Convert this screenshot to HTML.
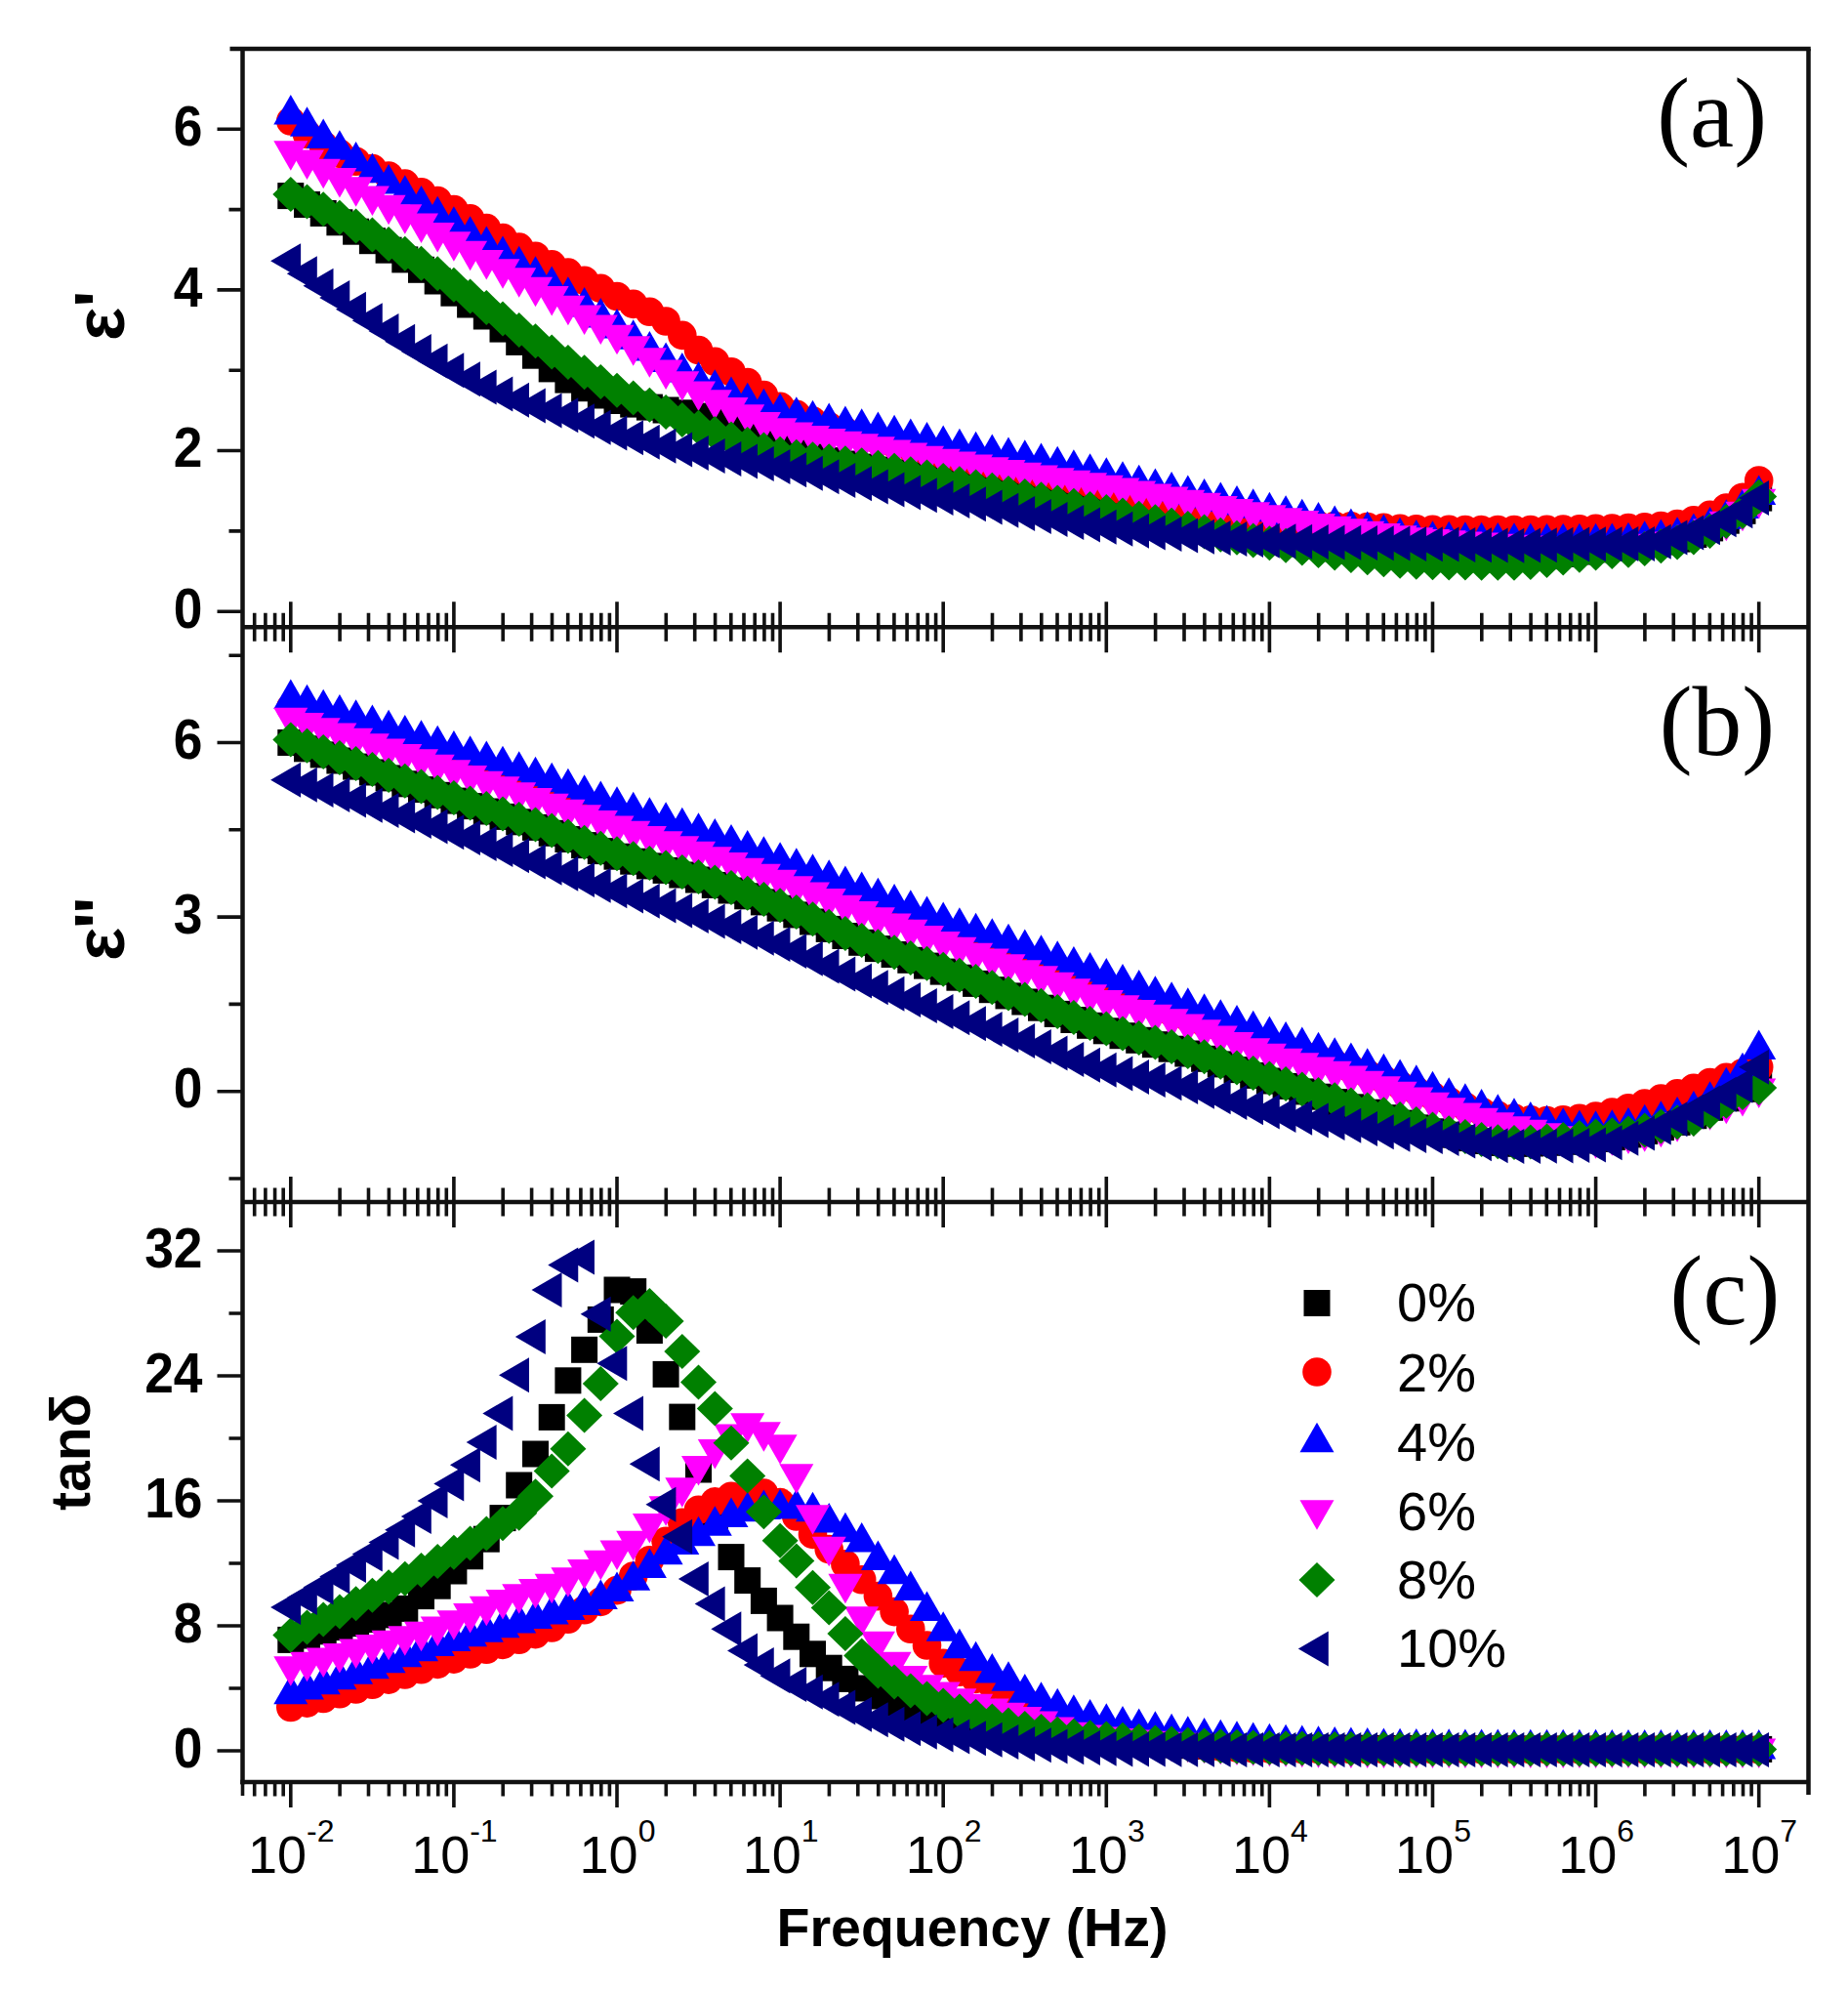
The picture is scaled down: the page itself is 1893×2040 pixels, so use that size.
<!DOCTYPE html>
<html><head><meta charset="utf-8"><title>Dielectric properties</title>
<style>
html,body{margin:0;padding:0;background:#fff;}
svg{display:block;}
text{font-family:"Liberation Sans",sans-serif;fill:#000;}
.bd{font-weight:bold;}
.sf{font-family:"Liberation Serif",serif;}
</style></head><body>
<svg width="1893" height="2040" viewBox="0 0 1893 2040">
<rect width="1893" height="2040" fill="#fff"/>
<defs>
<rect id="mk" x="-13.5" y="-13.5" width="27.0" height="27.0"/>
<circle id="mr" r="14.8"/>
<path id="mb" d="M0 -20.33L17.5 10.17L-17.5 10.17Z"/>
<path id="mm" d="M0 20.33L17.5 -10.17L-17.5 -10.17Z"/>
<path id="mg" d="M0 -18L18.5 0L0 18L-18.5 0Z"/>
<path id="mn" d="M-20.67 0L10.33 -18L10.33 18Z"/>
</defs>
<g fill="#000000"><use href="#mk" x="297.8" y="200.6"/><use href="#mk" x="314.5" y="209.5"/><use href="#mk" x="331.2" y="218.5"/><use href="#mk" x="347.9" y="227.8"/><use href="#mk" x="364.6" y="237.2"/><use href="#mk" x="381.4" y="246.7"/><use href="#mk" x="398.1" y="256.2"/><use href="#mk" x="414.8" y="265.9"/><use href="#mk" x="431.5" y="276.3"/><use href="#mk" x="448.2" y="288.0"/><use href="#mk" x="464.9" y="300.2"/><use href="#mk" x="481.6" y="312.0"/><use href="#mk" x="498.3" y="324.0"/><use href="#mk" x="515.0" y="337.1"/><use href="#mk" x="531.7" y="350.4"/><use href="#mk" x="548.5" y="364.2"/><use href="#mk" x="565.2" y="377.9"/><use href="#mk" x="581.9" y="389.1"/><use href="#mk" x="598.6" y="397.7"/><use href="#mk" x="615.3" y="405.0"/><use href="#mk" x="632.0" y="410.5"/><use href="#mk" x="648.7" y="414.1"/><use href="#mk" x="665.4" y="417.1"/><use href="#mk" x="682.1" y="420.0"/><use href="#mk" x="698.8" y="422.8"/><use href="#mk" x="715.5" y="426.1"/><use href="#mk" x="732.3" y="431.9"/><use href="#mk" x="749.0" y="438.3"/><use href="#mk" x="765.7" y="445.1"/><use href="#mk" x="782.4" y="452.5"/><use href="#mk" x="799.1" y="459.1"/><use href="#mk" x="815.8" y="463.7"/><use href="#mk" x="832.5" y="467.9"/><use href="#mk" x="849.2" y="471.6"/><use href="#mk" x="865.9" y="475.0"/><use href="#mk" x="882.7" y="478.1"/><use href="#mk" x="899.4" y="481.1"/><use href="#mk" x="916.1" y="483.9"/><use href="#mk" x="932.8" y="486.8"/><use href="#mk" x="949.5" y="489.7"/><use href="#mk" x="966.2" y="492.8"/><use href="#mk" x="982.9" y="496.0"/><use href="#mk" x="999.6" y="499.1"/><use href="#mk" x="1016.3" y="502.2"/><use href="#mk" x="1033.0" y="505.3"/><use href="#mk" x="1049.8" y="508.4"/><use href="#mk" x="1066.5" y="511.4"/><use href="#mk" x="1083.2" y="514.4"/><use href="#mk" x="1099.9" y="517.4"/><use href="#mk" x="1116.6" y="520.3"/><use href="#mk" x="1133.3" y="523.3"/><use href="#mk" x="1150.0" y="526.3"/><use href="#mk" x="1166.7" y="529.3"/><use href="#mk" x="1183.4" y="532.4"/><use href="#mk" x="1200.1" y="535.5"/><use href="#mk" x="1216.8" y="538.5"/><use href="#mk" x="1233.6" y="541.5"/><use href="#mk" x="1250.3" y="544.4"/><use href="#mk" x="1267.0" y="547.1"/><use href="#mk" x="1283.7" y="549.7"/><use href="#mk" x="1300.4" y="552.1"/><use href="#mk" x="1317.1" y="554.5"/><use href="#mk" x="1333.8" y="556.9"/><use href="#mk" x="1350.5" y="559.4"/><use href="#mk" x="1367.2" y="561.8"/><use href="#mk" x="1383.9" y="564.1"/><use href="#mk" x="1400.7" y="566.2"/><use href="#mk" x="1417.4" y="568.0"/><use href="#mk" x="1434.1" y="569.4"/><use href="#mk" x="1450.8" y="570.5"/><use href="#mk" x="1467.5" y="571.0"/><use href="#mk" x="1484.2" y="571.3"/><use href="#mk" x="1500.9" y="571.5"/><use href="#mk" x="1517.6" y="571.7"/><use href="#mk" x="1534.3" y="571.8"/><use href="#mk" x="1551.0" y="571.9"/><use href="#mk" x="1567.8" y="571.2"/><use href="#mk" x="1584.5" y="569.6"/><use href="#mk" x="1601.2" y="567.4"/><use href="#mk" x="1617.9" y="565.0"/><use href="#mk" x="1634.6" y="562.8"/><use href="#mk" x="1651.3" y="561.0"/><use href="#mk" x="1668.0" y="559.2"/><use href="#mk" x="1684.7" y="557.3"/><use href="#mk" x="1701.4" y="555.0"/><use href="#mk" x="1718.1" y="552.1"/><use href="#mk" x="1734.9" y="547.5"/><use href="#mk" x="1751.6" y="540.9"/><use href="#mk" x="1768.3" y="533.2"/><use href="#mk" x="1785.0" y="523.3"/><use href="#mk" x="1801.7" y="510.1"/></g>
<g fill="#ff0000"><use href="#mr" x="297.8" y="124.0"/><use href="#mr" x="314.5" y="137.5"/><use href="#mr" x="331.2" y="148.7"/><use href="#mr" x="347.9" y="157.4"/><use href="#mr" x="364.6" y="165.2"/><use href="#mr" x="381.4" y="172.5"/><use href="#mr" x="398.1" y="180.0"/><use href="#mr" x="414.8" y="188.1"/><use href="#mr" x="431.5" y="196.7"/><use href="#mr" x="448.2" y="205.5"/><use href="#mr" x="464.9" y="214.6"/><use href="#mr" x="481.6" y="223.9"/><use href="#mr" x="498.3" y="233.6"/><use href="#mr" x="515.0" y="243.5"/><use href="#mr" x="531.7" y="253.1"/><use href="#mr" x="548.5" y="262.3"/><use href="#mr" x="565.2" y="270.9"/><use href="#mr" x="581.9" y="279.1"/><use href="#mr" x="598.6" y="287.2"/><use href="#mr" x="615.3" y="295.2"/><use href="#mr" x="632.0" y="303.5"/><use href="#mr" x="648.7" y="311.4"/><use href="#mr" x="665.4" y="319.3"/><use href="#mr" x="682.1" y="329.0"/><use href="#mr" x="698.8" y="343.4"/><use href="#mr" x="715.5" y="358.6"/><use href="#mr" x="732.3" y="370.2"/><use href="#mr" x="749.0" y="380.7"/><use href="#mr" x="765.7" y="391.6"/><use href="#mr" x="782.4" y="404.6"/><use href="#mr" x="799.1" y="416.3"/><use href="#mr" x="815.8" y="424.4"/><use href="#mr" x="832.5" y="431.1"/><use href="#mr" x="849.2" y="436.8"/><use href="#mr" x="865.9" y="441.9"/><use href="#mr" x="882.7" y="446.5"/><use href="#mr" x="899.4" y="450.7"/><use href="#mr" x="916.1" y="454.6"/><use href="#mr" x="932.8" y="458.4"/><use href="#mr" x="949.5" y="462.0"/><use href="#mr" x="966.2" y="465.7"/><use href="#mr" x="982.9" y="469.2"/><use href="#mr" x="999.6" y="472.7"/><use href="#mr" x="1016.3" y="475.9"/><use href="#mr" x="1033.0" y="479.1"/><use href="#mr" x="1049.8" y="482.3"/><use href="#mr" x="1066.5" y="485.4"/><use href="#mr" x="1083.2" y="488.6"/><use href="#mr" x="1099.9" y="491.8"/><use href="#mr" x="1116.6" y="495.1"/><use href="#mr" x="1133.3" y="498.6"/><use href="#mr" x="1150.0" y="502.3"/><use href="#mr" x="1166.7" y="506.1"/><use href="#mr" x="1183.4" y="510.0"/><use href="#mr" x="1200.1" y="513.9"/><use href="#mr" x="1216.8" y="517.5"/><use href="#mr" x="1233.6" y="521.2"/><use href="#mr" x="1250.3" y="525.0"/><use href="#mr" x="1267.0" y="528.5"/><use href="#mr" x="1283.7" y="531.6"/><use href="#mr" x="1300.4" y="534.0"/><use href="#mr" x="1317.1" y="535.8"/><use href="#mr" x="1333.8" y="537.2"/><use href="#mr" x="1350.5" y="538.1"/><use href="#mr" x="1367.2" y="538.5"/><use href="#mr" x="1383.9" y="538.9"/><use href="#mr" x="1400.7" y="539.6"/><use href="#mr" x="1417.4" y="540.4"/><use href="#mr" x="1434.1" y="541.2"/><use href="#mr" x="1450.8" y="541.9"/><use href="#mr" x="1467.5" y="542.2"/><use href="#mr" x="1484.2" y="542.4"/><use href="#mr" x="1500.9" y="542.5"/><use href="#mr" x="1517.6" y="542.6"/><use href="#mr" x="1534.3" y="542.6"/><use href="#mr" x="1551.0" y="542.6"/><use href="#mr" x="1567.8" y="542.6"/><use href="#mr" x="1584.5" y="542.4"/><use href="#mr" x="1601.2" y="542.1"/><use href="#mr" x="1617.9" y="541.8"/><use href="#mr" x="1634.6" y="541.4"/><use href="#mr" x="1651.3" y="541.0"/><use href="#mr" x="1668.0" y="540.5"/><use href="#mr" x="1684.7" y="539.8"/><use href="#mr" x="1701.4" y="538.5"/><use href="#mr" x="1718.1" y="536.5"/><use href="#mr" x="1734.9" y="532.8"/><use href="#mr" x="1751.6" y="527.4"/><use href="#mr" x="1768.3" y="520.0"/><use href="#mr" x="1785.0" y="509.3"/><use href="#mr" x="1801.7" y="492.0"/></g>
<g fill="#0000ff"><use href="#mb" x="297.8" y="117.4"/><use href="#mb" x="314.5" y="129.7"/><use href="#mb" x="331.2" y="141.8"/><use href="#mb" x="347.9" y="153.7"/><use href="#mb" x="364.6" y="165.4"/><use href="#mb" x="381.4" y="177.0"/><use href="#mb" x="398.1" y="188.3"/><use href="#mb" x="414.8" y="199.5"/><use href="#mb" x="431.5" y="210.4"/><use href="#mb" x="448.2" y="221.1"/><use href="#mb" x="464.9" y="231.5"/><use href="#mb" x="481.6" y="241.7"/><use href="#mb" x="498.3" y="251.8"/><use href="#mb" x="515.0" y="261.9"/><use href="#mb" x="531.7" y="272.2"/><use href="#mb" x="548.5" y="282.5"/><use href="#mb" x="565.2" y="292.9"/><use href="#mb" x="581.9" y="303.5"/><use href="#mb" x="598.6" y="314.3"/><use href="#mb" x="615.3" y="325.4"/><use href="#mb" x="632.0" y="336.4"/><use href="#mb" x="648.7" y="347.7"/><use href="#mb" x="665.4" y="359.3"/><use href="#mb" x="682.1" y="370.8"/><use href="#mb" x="698.8" y="381.4"/><use href="#mb" x="715.5" y="390.7"/><use href="#mb" x="732.3" y="398.7"/><use href="#mb" x="749.0" y="405.8"/><use href="#mb" x="765.7" y="412.1"/><use href="#mb" x="782.4" y="418.0"/><use href="#mb" x="799.1" y="422.8"/><use href="#mb" x="815.8" y="426.7"/><use href="#mb" x="832.5" y="430.0"/><use href="#mb" x="849.2" y="432.9"/><use href="#mb" x="865.9" y="435.8"/><use href="#mb" x="882.7" y="438.6"/><use href="#mb" x="899.4" y="441.8"/><use href="#mb" x="916.1" y="445.2"/><use href="#mb" x="932.8" y="448.8"/><use href="#mb" x="949.5" y="452.4"/><use href="#mb" x="966.2" y="455.8"/><use href="#mb" x="982.9" y="459.0"/><use href="#mb" x="999.6" y="462.0"/><use href="#mb" x="1016.3" y="464.9"/><use href="#mb" x="1033.0" y="467.8"/><use href="#mb" x="1049.8" y="470.7"/><use href="#mb" x="1066.5" y="473.8"/><use href="#mb" x="1083.2" y="477.0"/><use href="#mb" x="1099.9" y="480.5"/><use href="#mb" x="1116.6" y="484.5"/><use href="#mb" x="1133.3" y="488.7"/><use href="#mb" x="1150.0" y="492.5"/><use href="#mb" x="1166.7" y="496.2"/><use href="#mb" x="1183.4" y="499.8"/><use href="#mb" x="1200.1" y="503.3"/><use href="#mb" x="1216.8" y="506.8"/><use href="#mb" x="1233.6" y="510.3"/><use href="#mb" x="1250.3" y="513.8"/><use href="#mb" x="1267.0" y="517.3"/><use href="#mb" x="1283.7" y="520.7"/><use href="#mb" x="1300.4" y="524.1"/><use href="#mb" x="1317.1" y="527.5"/><use href="#mb" x="1333.8" y="531.0"/><use href="#mb" x="1350.5" y="534.4"/><use href="#mb" x="1367.2" y="537.8"/><use href="#mb" x="1383.9" y="540.9"/><use href="#mb" x="1400.7" y="543.9"/><use href="#mb" x="1417.4" y="546.9"/><use href="#mb" x="1434.1" y="550.0"/><use href="#mb" x="1450.8" y="552.4"/><use href="#mb" x="1467.5" y="553.7"/><use href="#mb" x="1484.2" y="554.2"/><use href="#mb" x="1500.9" y="554.7"/><use href="#mb" x="1517.6" y="555.0"/><use href="#mb" x="1534.3" y="555.4"/><use href="#mb" x="1551.0" y="555.6"/><use href="#mb" x="1567.8" y="555.8"/><use href="#mb" x="1584.5" y="556.0"/><use href="#mb" x="1601.2" y="556.1"/><use href="#mb" x="1617.9" y="556.2"/><use href="#mb" x="1634.6" y="556.2"/><use href="#mb" x="1651.3" y="555.9"/><use href="#mb" x="1668.0" y="555.0"/><use href="#mb" x="1684.7" y="553.6"/><use href="#mb" x="1701.4" y="551.8"/><use href="#mb" x="1718.1" y="549.6"/><use href="#mb" x="1734.9" y="545.8"/><use href="#mb" x="1751.6" y="539.4"/><use href="#mb" x="1768.3" y="531.5"/><use href="#mb" x="1785.0" y="520.8"/><use href="#mb" x="1801.7" y="506.8"/></g>
<g fill="#ff00ff"><use href="#mm" x="297.8" y="154.4"/><use href="#mm" x="314.5" y="163.6"/><use href="#mm" x="331.2" y="172.9"/><use href="#mm" x="347.9" y="182.1"/><use href="#mm" x="364.6" y="191.4"/><use href="#mm" x="381.4" y="200.7"/><use href="#mm" x="398.1" y="210.0"/><use href="#mm" x="414.8" y="219.3"/><use href="#mm" x="431.5" y="228.7"/><use href="#mm" x="448.2" y="238.1"/><use href="#mm" x="464.9" y="247.5"/><use href="#mm" x="481.6" y="256.8"/><use href="#mm" x="498.3" y="266.1"/><use href="#mm" x="515.0" y="275.3"/><use href="#mm" x="531.7" y="284.5"/><use href="#mm" x="548.5" y="293.8"/><use href="#mm" x="565.2" y="303.2"/><use href="#mm" x="581.9" y="312.8"/><use href="#mm" x="598.6" y="322.6"/><use href="#mm" x="615.3" y="332.6"/><use href="#mm" x="632.0" y="343.0"/><use href="#mm" x="648.7" y="354.3"/><use href="#mm" x="665.4" y="366.4"/><use href="#mm" x="682.1" y="378.7"/><use href="#mm" x="698.8" y="390.4"/><use href="#mm" x="715.5" y="400.6"/><use href="#mm" x="732.3" y="409.3"/><use href="#mm" x="749.0" y="417.1"/><use href="#mm" x="765.7" y="424.5"/><use href="#mm" x="782.4" y="432.2"/><use href="#mm" x="799.1" y="438.5"/><use href="#mm" x="815.8" y="442.7"/><use href="#mm" x="832.5" y="446.1"/><use href="#mm" x="849.2" y="449.1"/><use href="#mm" x="865.9" y="451.8"/><use href="#mm" x="882.7" y="454.5"/><use href="#mm" x="899.4" y="457.4"/><use href="#mm" x="916.1" y="460.6"/><use href="#mm" x="932.8" y="463.7"/><use href="#mm" x="949.5" y="466.8"/><use href="#mm" x="966.2" y="469.8"/><use href="#mm" x="982.9" y="472.7"/><use href="#mm" x="999.6" y="475.6"/><use href="#mm" x="1016.3" y="478.4"/><use href="#mm" x="1033.0" y="481.2"/><use href="#mm" x="1049.8" y="484.0"/><use href="#mm" x="1066.5" y="486.7"/><use href="#mm" x="1083.2" y="489.4"/><use href="#mm" x="1099.9" y="492.0"/><use href="#mm" x="1116.6" y="494.5"/><use href="#mm" x="1133.3" y="496.9"/><use href="#mm" x="1150.0" y="499.7"/><use href="#mm" x="1166.7" y="502.6"/><use href="#mm" x="1183.4" y="505.6"/><use href="#mm" x="1200.1" y="508.7"/><use href="#mm" x="1216.8" y="511.8"/><use href="#mm" x="1233.6" y="514.9"/><use href="#mm" x="1250.3" y="518.1"/><use href="#mm" x="1267.0" y="521.2"/><use href="#mm" x="1283.7" y="524.4"/><use href="#mm" x="1300.4" y="527.4"/><use href="#mm" x="1317.1" y="530.3"/><use href="#mm" x="1333.8" y="533.2"/><use href="#mm" x="1350.5" y="536.1"/><use href="#mm" x="1367.2" y="538.8"/><use href="#mm" x="1383.9" y="541.4"/><use href="#mm" x="1400.7" y="543.9"/><use href="#mm" x="1417.4" y="546.2"/><use href="#mm" x="1434.1" y="548.5"/><use href="#mm" x="1450.8" y="550.5"/><use href="#mm" x="1467.5" y="552.1"/><use href="#mm" x="1484.2" y="553.3"/><use href="#mm" x="1500.9" y="554.6"/><use href="#mm" x="1517.6" y="555.7"/><use href="#mm" x="1534.3" y="556.8"/><use href="#mm" x="1551.0" y="557.8"/><use href="#mm" x="1567.8" y="558.6"/><use href="#mm" x="1584.5" y="559.3"/><use href="#mm" x="1601.2" y="559.9"/><use href="#mm" x="1617.9" y="560.2"/><use href="#mm" x="1634.6" y="560.3"/><use href="#mm" x="1651.3" y="559.9"/><use href="#mm" x="1668.0" y="558.7"/><use href="#mm" x="1684.7" y="557.0"/><use href="#mm" x="1701.4" y="554.7"/><use href="#mm" x="1718.1" y="552.1"/><use href="#mm" x="1734.9" y="548.0"/><use href="#mm" x="1751.6" y="541.7"/><use href="#mm" x="1768.3" y="534.0"/><use href="#mm" x="1785.0" y="523.9"/><use href="#mm" x="1801.7" y="510.9"/></g>
<g fill="#008000"><use href="#mg" x="297.8" y="198.9"/><use href="#mg" x="314.5" y="206.4"/><use href="#mg" x="331.2" y="214.3"/><use href="#mg" x="347.9" y="222.7"/><use href="#mg" x="364.6" y="231.4"/><use href="#mg" x="381.4" y="240.6"/><use href="#mg" x="398.1" y="250.0"/><use href="#mg" x="414.8" y="259.7"/><use href="#mg" x="431.5" y="269.7"/><use href="#mg" x="448.2" y="280.3"/><use href="#mg" x="464.9" y="291.8"/><use href="#mg" x="481.6" y="303.5"/><use href="#mg" x="498.3" y="315.0"/><use href="#mg" x="515.0" y="326.4"/><use href="#mg" x="531.7" y="337.9"/><use href="#mg" x="548.5" y="349.3"/><use href="#mg" x="565.2" y="360.4"/><use href="#mg" x="581.9" y="371.0"/><use href="#mg" x="598.6" y="381.2"/><use href="#mg" x="615.3" y="390.9"/><use href="#mg" x="632.0" y="399.8"/><use href="#mg" x="648.7" y="407.6"/><use href="#mg" x="665.4" y="414.7"/><use href="#mg" x="682.1" y="422.0"/><use href="#mg" x="698.8" y="430.1"/><use href="#mg" x="715.5" y="437.7"/><use href="#mg" x="732.3" y="444.0"/><use href="#mg" x="749.0" y="449.6"/><use href="#mg" x="765.7" y="455.0"/><use href="#mg" x="782.4" y="460.4"/><use href="#mg" x="799.1" y="464.8"/><use href="#mg" x="815.8" y="467.8"/><use href="#mg" x="832.5" y="470.2"/><use href="#mg" x="849.2" y="472.3"/><use href="#mg" x="865.9" y="474.2"/><use href="#mg" x="882.7" y="476.3"/><use href="#mg" x="899.4" y="478.8"/><use href="#mg" x="916.1" y="481.8"/><use href="#mg" x="932.8" y="485.2"/><use href="#mg" x="949.5" y="488.6"/><use href="#mg" x="966.2" y="492.0"/><use href="#mg" x="982.9" y="495.3"/><use href="#mg" x="999.6" y="498.5"/><use href="#mg" x="1016.3" y="501.7"/><use href="#mg" x="1033.0" y="504.9"/><use href="#mg" x="1049.8" y="508.1"/><use href="#mg" x="1066.5" y="511.3"/><use href="#mg" x="1083.2" y="514.5"/><use href="#mg" x="1099.9" y="517.7"/><use href="#mg" x="1116.6" y="520.9"/><use href="#mg" x="1133.3" y="524.1"/><use href="#mg" x="1150.0" y="527.4"/><use href="#mg" x="1166.7" y="530.8"/><use href="#mg" x="1183.4" y="534.2"/><use href="#mg" x="1200.1" y="537.7"/><use href="#mg" x="1216.8" y="541.1"/><use href="#mg" x="1233.6" y="544.4"/><use href="#mg" x="1250.3" y="547.7"/><use href="#mg" x="1267.0" y="550.8"/><use href="#mg" x="1283.7" y="553.6"/><use href="#mg" x="1300.4" y="556.2"/><use href="#mg" x="1317.1" y="558.8"/><use href="#mg" x="1333.8" y="561.4"/><use href="#mg" x="1350.5" y="564.0"/><use href="#mg" x="1367.2" y="566.6"/><use href="#mg" x="1383.9" y="569.1"/><use href="#mg" x="1400.7" y="571.3"/><use href="#mg" x="1417.4" y="573.2"/><use href="#mg" x="1434.1" y="574.7"/><use href="#mg" x="1450.8" y="575.7"/><use href="#mg" x="1467.5" y="576.2"/><use href="#mg" x="1484.2" y="576.4"/><use href="#mg" x="1500.9" y="576.6"/><use href="#mg" x="1517.6" y="576.7"/><use href="#mg" x="1534.3" y="576.8"/><use href="#mg" x="1551.0" y="576.8"/><use href="#mg" x="1567.8" y="576.0"/><use href="#mg" x="1584.5" y="574.0"/><use href="#mg" x="1601.2" y="571.4"/><use href="#mg" x="1617.9" y="568.7"/><use href="#mg" x="1634.6" y="566.5"/><use href="#mg" x="1651.3" y="565.0"/><use href="#mg" x="1668.0" y="563.7"/><use href="#mg" x="1684.7" y="562.0"/><use href="#mg" x="1701.4" y="559.2"/><use href="#mg" x="1718.1" y="555.4"/><use href="#mg" x="1734.9" y="550.5"/><use href="#mg" x="1751.6" y="543.9"/><use href="#mg" x="1768.3" y="534.0"/><use href="#mg" x="1785.0" y="524.1"/><use href="#mg" x="1801.7" y="508.5"/></g>
<g fill="#000080"><use href="#mn" x="297.8" y="267.2"/><use href="#mn" x="314.5" y="280.2"/><use href="#mn" x="331.2" y="292.8"/><use href="#mn" x="347.9" y="305.0"/><use href="#mn" x="364.6" y="316.8"/><use href="#mn" x="381.4" y="328.2"/><use href="#mn" x="398.1" y="339.1"/><use href="#mn" x="414.8" y="349.7"/><use href="#mn" x="431.5" y="359.9"/><use href="#mn" x="448.2" y="369.8"/><use href="#mn" x="464.9" y="379.2"/><use href="#mn" x="481.6" y="388.3"/><use href="#mn" x="498.3" y="396.5"/><use href="#mn" x="515.0" y="403.5"/><use href="#mn" x="531.7" y="409.7"/><use href="#mn" x="548.5" y="415.4"/><use href="#mn" x="565.2" y="420.4"/><use href="#mn" x="581.9" y="425.3"/><use href="#mn" x="598.6" y="431.3"/><use href="#mn" x="615.3" y="437.7"/><use href="#mn" x="632.0" y="443.4"/><use href="#mn" x="648.7" y="448.2"/><use href="#mn" x="665.4" y="452.7"/><use href="#mn" x="682.1" y="456.8"/><use href="#mn" x="698.8" y="460.5"/><use href="#mn" x="715.5" y="464.0"/><use href="#mn" x="732.3" y="467.1"/><use href="#mn" x="749.0" y="469.9"/><use href="#mn" x="765.7" y="472.5"/><use href="#mn" x="782.4" y="475.1"/><use href="#mn" x="799.1" y="478.0"/><use href="#mn" x="815.8" y="481.2"/><use href="#mn" x="832.5" y="484.7"/><use href="#mn" x="849.2" y="488.3"/><use href="#mn" x="865.9" y="491.9"/><use href="#mn" x="882.7" y="495.3"/><use href="#mn" x="899.4" y="498.6"/><use href="#mn" x="916.1" y="501.6"/><use href="#mn" x="932.8" y="504.5"/><use href="#mn" x="949.5" y="507.3"/><use href="#mn" x="966.2" y="510.1"/><use href="#mn" x="982.9" y="513.1"/><use href="#mn" x="999.6" y="516.3"/><use href="#mn" x="1016.3" y="519.5"/><use href="#mn" x="1033.0" y="522.7"/><use href="#mn" x="1049.8" y="525.9"/><use href="#mn" x="1066.5" y="529.1"/><use href="#mn" x="1083.2" y="532.1"/><use href="#mn" x="1099.9" y="534.9"/><use href="#mn" x="1116.6" y="537.5"/><use href="#mn" x="1133.3" y="539.8"/><use href="#mn" x="1150.0" y="541.8"/><use href="#mn" x="1166.7" y="543.7"/><use href="#mn" x="1183.4" y="545.4"/><use href="#mn" x="1200.1" y="547.0"/><use href="#mn" x="1216.8" y="548.4"/><use href="#mn" x="1233.6" y="549.7"/><use href="#mn" x="1250.3" y="551.0"/><use href="#mn" x="1267.0" y="552.1"/><use href="#mn" x="1283.7" y="553.0"/><use href="#mn" x="1300.4" y="553.7"/><use href="#mn" x="1317.1" y="554.3"/><use href="#mn" x="1333.8" y="554.7"/><use href="#mn" x="1350.5" y="555.1"/><use href="#mn" x="1367.2" y="555.5"/><use href="#mn" x="1383.9" y="555.8"/><use href="#mn" x="1400.7" y="556.1"/><use href="#mn" x="1417.4" y="556.3"/><use href="#mn" x="1434.1" y="556.6"/><use href="#mn" x="1450.8" y="556.9"/><use href="#mn" x="1467.5" y="557.2"/><use href="#mn" x="1484.2" y="557.6"/><use href="#mn" x="1500.9" y="558.0"/><use href="#mn" x="1517.6" y="558.3"/><use href="#mn" x="1534.3" y="558.6"/><use href="#mn" x="1551.0" y="558.7"/><use href="#mn" x="1567.8" y="558.5"/><use href="#mn" x="1584.5" y="558.2"/><use href="#mn" x="1601.2" y="557.8"/><use href="#mn" x="1617.9" y="557.4"/><use href="#mn" x="1634.6" y="557.2"/><use href="#mn" x="1651.3" y="557.2"/><use href="#mn" x="1668.0" y="557.1"/><use href="#mn" x="1684.7" y="557.0"/><use href="#mn" x="1701.4" y="554.7"/><use href="#mn" x="1718.1" y="550.5"/><use href="#mn" x="1734.9" y="545.5"/><use href="#mn" x="1751.6" y="540.2"/><use href="#mn" x="1768.3" y="532.3"/><use href="#mn" x="1785.0" y="523.3"/><use href="#mn" x="1801.7" y="510.1"/></g>
<g fill="#000000"><use href="#mk" x="297.8" y="760.5"/><use href="#mk" x="314.5" y="766.8"/><use href="#mk" x="331.2" y="772.9"/><use href="#mk" x="347.9" y="779.0"/><use href="#mk" x="364.6" y="785.1"/><use href="#mk" x="381.4" y="791.0"/><use href="#mk" x="398.1" y="796.9"/><use href="#mk" x="414.8" y="802.8"/><use href="#mk" x="431.5" y="808.6"/><use href="#mk" x="448.2" y="814.3"/><use href="#mk" x="464.9" y="820.1"/><use href="#mk" x="481.6" y="825.6"/><use href="#mk" x="498.3" y="831.0"/><use href="#mk" x="515.0" y="836.4"/><use href="#mk" x="531.7" y="841.8"/><use href="#mk" x="548.5" y="847.4"/><use href="#mk" x="565.2" y="853.3"/><use href="#mk" x="581.9" y="859.5"/><use href="#mk" x="598.6" y="865.6"/><use href="#mk" x="615.3" y="871.6"/><use href="#mk" x="632.0" y="877.2"/><use href="#mk" x="648.7" y="882.2"/><use href="#mk" x="665.4" y="886.9"/><use href="#mk" x="682.1" y="891.4"/><use href="#mk" x="698.8" y="896.0"/><use href="#mk" x="715.5" y="901.0"/><use href="#mk" x="732.3" y="906.4"/><use href="#mk" x="749.0" y="912.0"/><use href="#mk" x="765.7" y="917.8"/><use href="#mk" x="782.4" y="923.9"/><use href="#mk" x="799.1" y="930.2"/><use href="#mk" x="815.8" y="936.9"/><use href="#mk" x="832.5" y="944.0"/><use href="#mk" x="849.2" y="951.4"/><use href="#mk" x="865.9" y="958.5"/><use href="#mk" x="882.7" y="965.3"/><use href="#mk" x="899.4" y="971.6"/><use href="#mk" x="916.1" y="977.5"/><use href="#mk" x="932.8" y="983.3"/><use href="#mk" x="949.5" y="989.1"/><use href="#mk" x="966.2" y="995.1"/><use href="#mk" x="982.9" y="1001.2"/><use href="#mk" x="999.6" y="1007.4"/><use href="#mk" x="1016.3" y="1013.7"/><use href="#mk" x="1033.0" y="1019.9"/><use href="#mk" x="1049.8" y="1026.0"/><use href="#mk" x="1066.5" y="1032.2"/><use href="#mk" x="1083.2" y="1038.4"/><use href="#mk" x="1099.9" y="1044.5"/><use href="#mk" x="1116.6" y="1050.3"/><use href="#mk" x="1133.3" y="1055.8"/><use href="#mk" x="1150.0" y="1060.7"/><use href="#mk" x="1166.7" y="1065.3"/><use href="#mk" x="1183.4" y="1069.7"/><use href="#mk" x="1200.1" y="1074.2"/><use href="#mk" x="1216.8" y="1079.0"/><use href="#mk" x="1233.6" y="1084.3"/><use href="#mk" x="1250.3" y="1089.9"/><use href="#mk" x="1267.0" y="1095.6"/><use href="#mk" x="1283.7" y="1101.4"/><use href="#mk" x="1300.4" y="1107.0"/><use href="#mk" x="1317.1" y="1112.4"/><use href="#mk" x="1333.8" y="1117.9"/><use href="#mk" x="1350.5" y="1123.2"/><use href="#mk" x="1367.2" y="1128.6"/><use href="#mk" x="1383.9" y="1133.8"/><use href="#mk" x="1400.7" y="1139.2"/><use href="#mk" x="1417.4" y="1144.7"/><use href="#mk" x="1434.1" y="1150.1"/><use href="#mk" x="1450.8" y="1154.9"/><use href="#mk" x="1467.5" y="1158.8"/><use href="#mk" x="1484.2" y="1162.2"/><use href="#mk" x="1500.9" y="1165.6"/><use href="#mk" x="1517.6" y="1168.5"/><use href="#mk" x="1534.3" y="1170.5"/><use href="#mk" x="1551.0" y="1171.3"/><use href="#mk" x="1567.8" y="1171.0"/><use href="#mk" x="1584.5" y="1170.3"/><use href="#mk" x="1601.2" y="1169.3"/><use href="#mk" x="1617.9" y="1168.0"/><use href="#mk" x="1634.6" y="1166.5"/><use href="#mk" x="1651.3" y="1164.6"/><use href="#mk" x="1668.0" y="1161.9"/><use href="#mk" x="1684.7" y="1158.5"/><use href="#mk" x="1701.4" y="1154.6"/><use href="#mk" x="1718.1" y="1149.4"/><use href="#mk" x="1734.9" y="1142.7"/><use href="#mk" x="1751.6" y="1134.3"/><use href="#mk" x="1768.3" y="1124.8"/><use href="#mk" x="1785.0" y="1115.3"/><use href="#mk" x="1801.7" y="1102.8"/></g>
<g fill="#ff0000"><use href="#mr" x="297.8" y="724.8"/><use href="#mr" x="314.5" y="730.0"/><use href="#mr" x="331.2" y="735.2"/><use href="#mr" x="347.9" y="740.5"/><use href="#mr" x="364.6" y="745.8"/><use href="#mr" x="381.4" y="751.2"/><use href="#mr" x="398.1" y="756.5"/><use href="#mr" x="414.8" y="761.9"/><use href="#mr" x="431.5" y="767.4"/><use href="#mr" x="448.2" y="772.9"/><use href="#mr" x="464.9" y="778.4"/><use href="#mr" x="481.6" y="784.0"/><use href="#mr" x="498.3" y="789.6"/><use href="#mr" x="515.0" y="795.3"/><use href="#mr" x="531.7" y="801.1"/><use href="#mr" x="548.5" y="806.8"/><use href="#mr" x="565.2" y="812.6"/><use href="#mr" x="581.9" y="818.4"/><use href="#mr" x="598.6" y="824.2"/><use href="#mr" x="615.3" y="829.9"/><use href="#mr" x="632.0" y="835.5"/><use href="#mr" x="648.7" y="841.1"/><use href="#mr" x="665.4" y="846.6"/><use href="#mr" x="682.1" y="852.0"/><use href="#mr" x="698.8" y="857.5"/><use href="#mr" x="715.5" y="862.9"/><use href="#mr" x="732.3" y="868.3"/><use href="#mr" x="749.0" y="873.8"/><use href="#mr" x="765.7" y="879.4"/><use href="#mr" x="782.4" y="885.1"/><use href="#mr" x="799.1" y="890.9"/><use href="#mr" x="815.8" y="896.9"/><use href="#mr" x="832.5" y="903.0"/><use href="#mr" x="849.2" y="909.3"/><use href="#mr" x="865.9" y="915.7"/><use href="#mr" x="882.7" y="922.1"/><use href="#mr" x="899.4" y="928.6"/><use href="#mr" x="916.1" y="935.0"/><use href="#mr" x="932.8" y="941.4"/><use href="#mr" x="949.5" y="947.8"/><use href="#mr" x="966.2" y="954.0"/><use href="#mr" x="982.9" y="960.1"/><use href="#mr" x="999.6" y="966.3"/><use href="#mr" x="1016.3" y="972.4"/><use href="#mr" x="1033.0" y="978.5"/><use href="#mr" x="1049.8" y="984.6"/><use href="#mr" x="1066.5" y="990.6"/><use href="#mr" x="1083.2" y="996.6"/><use href="#mr" x="1099.9" y="1002.5"/><use href="#mr" x="1116.6" y="1008.3"/><use href="#mr" x="1133.3" y="1014.1"/><use href="#mr" x="1150.0" y="1019.8"/><use href="#mr" x="1166.7" y="1025.5"/><use href="#mr" x="1183.4" y="1031.0"/><use href="#mr" x="1200.1" y="1036.6"/><use href="#mr" x="1216.8" y="1042.0"/><use href="#mr" x="1233.6" y="1047.5"/><use href="#mr" x="1250.3" y="1052.9"/><use href="#mr" x="1267.0" y="1058.2"/><use href="#mr" x="1283.7" y="1063.6"/><use href="#mr" x="1300.4" y="1068.9"/><use href="#mr" x="1317.1" y="1074.1"/><use href="#mr" x="1333.8" y="1079.2"/><use href="#mr" x="1350.5" y="1084.3"/><use href="#mr" x="1367.2" y="1089.4"/><use href="#mr" x="1383.9" y="1094.5"/><use href="#mr" x="1400.7" y="1099.8"/><use href="#mr" x="1417.4" y="1105.5"/><use href="#mr" x="1434.1" y="1111.3"/><use href="#mr" x="1450.8" y="1117.1"/><use href="#mr" x="1467.5" y="1122.5"/><use href="#mr" x="1484.2" y="1127.8"/><use href="#mr" x="1500.9" y="1133.2"/><use href="#mr" x="1517.6" y="1138.3"/><use href="#mr" x="1534.3" y="1142.4"/><use href="#mr" x="1551.0" y="1145.1"/><use href="#mr" x="1567.8" y="1146.7"/><use href="#mr" x="1584.5" y="1147.5"/><use href="#mr" x="1601.2" y="1146.8"/><use href="#mr" x="1617.9" y="1145.2"/><use href="#mr" x="1634.6" y="1143.0"/><use href="#mr" x="1651.3" y="1139.1"/><use href="#mr" x="1668.0" y="1134.7"/><use href="#mr" x="1684.7" y="1130.0"/><use href="#mr" x="1701.4" y="1125.1"/><use href="#mr" x="1718.1" y="1119.9"/><use href="#mr" x="1734.9" y="1114.2"/><use href="#mr" x="1751.6" y="1108.5"/><use href="#mr" x="1768.3" y="1103.4"/><use href="#mr" x="1785.0" y="1098.7"/><use href="#mr" x="1801.7" y="1092.7"/></g>
<g fill="#0000ff"><use href="#mb" x="297.8" y="715.9"/><use href="#mb" x="314.5" y="721.0"/><use href="#mb" x="331.2" y="726.2"/><use href="#mb" x="347.9" y="731.4"/><use href="#mb" x="364.6" y="736.6"/><use href="#mb" x="381.4" y="741.9"/><use href="#mb" x="398.1" y="747.1"/><use href="#mb" x="414.8" y="752.4"/><use href="#mb" x="431.5" y="757.7"/><use href="#mb" x="448.2" y="763.0"/><use href="#mb" x="464.9" y="768.3"/><use href="#mb" x="481.6" y="773.5"/><use href="#mb" x="498.3" y="778.8"/><use href="#mb" x="515.0" y="784.0"/><use href="#mb" x="531.7" y="789.5"/><use href="#mb" x="548.5" y="795.0"/><use href="#mb" x="565.2" y="801.0"/><use href="#mb" x="581.9" y="807.2"/><use href="#mb" x="598.6" y="813.5"/><use href="#mb" x="615.3" y="819.8"/><use href="#mb" x="632.0" y="825.7"/><use href="#mb" x="648.7" y="831.2"/><use href="#mb" x="665.4" y="836.5"/><use href="#mb" x="682.1" y="841.7"/><use href="#mb" x="698.8" y="847.0"/><use href="#mb" x="715.5" y="852.5"/><use href="#mb" x="732.3" y="858.3"/><use href="#mb" x="749.0" y="864.3"/><use href="#mb" x="765.7" y="870.3"/><use href="#mb" x="782.4" y="876.5"/><use href="#mb" x="799.1" y="882.6"/><use href="#mb" x="815.8" y="888.6"/><use href="#mb" x="832.5" y="894.7"/><use href="#mb" x="849.2" y="900.7"/><use href="#mb" x="865.9" y="906.8"/><use href="#mb" x="882.7" y="912.9"/><use href="#mb" x="899.4" y="919.1"/><use href="#mb" x="916.1" y="925.4"/><use href="#mb" x="932.8" y="931.7"/><use href="#mb" x="949.5" y="937.9"/><use href="#mb" x="966.2" y="943.9"/><use href="#mb" x="982.9" y="949.6"/><use href="#mb" x="999.6" y="955.2"/><use href="#mb" x="1016.3" y="960.7"/><use href="#mb" x="1033.0" y="966.2"/><use href="#mb" x="1049.8" y="971.9"/><use href="#mb" x="1066.5" y="977.6"/><use href="#mb" x="1083.2" y="983.5"/><use href="#mb" x="1099.9" y="989.4"/><use href="#mb" x="1116.6" y="995.3"/><use href="#mb" x="1133.3" y="1001.3"/><use href="#mb" x="1150.0" y="1007.3"/><use href="#mb" x="1166.7" y="1013.3"/><use href="#mb" x="1183.4" y="1019.5"/><use href="#mb" x="1200.1" y="1025.6"/><use href="#mb" x="1216.8" y="1031.6"/><use href="#mb" x="1233.6" y="1037.6"/><use href="#mb" x="1250.3" y="1043.5"/><use href="#mb" x="1267.0" y="1049.4"/><use href="#mb" x="1283.7" y="1055.2"/><use href="#mb" x="1300.4" y="1060.9"/><use href="#mb" x="1317.1" y="1066.4"/><use href="#mb" x="1333.8" y="1071.8"/><use href="#mb" x="1350.5" y="1077.1"/><use href="#mb" x="1367.2" y="1082.5"/><use href="#mb" x="1383.9" y="1087.9"/><use href="#mb" x="1400.7" y="1093.6"/><use href="#mb" x="1417.4" y="1099.2"/><use href="#mb" x="1434.1" y="1104.8"/><use href="#mb" x="1450.8" y="1110.6"/><use href="#mb" x="1467.5" y="1117.1"/><use href="#mb" x="1484.2" y="1123.7"/><use href="#mb" x="1500.9" y="1129.6"/><use href="#mb" x="1517.6" y="1135.4"/><use href="#mb" x="1534.3" y="1140.6"/><use href="#mb" x="1551.0" y="1144.7"/><use href="#mb" x="1567.8" y="1148.3"/><use href="#mb" x="1584.5" y="1151.8"/><use href="#mb" x="1601.2" y="1154.7"/><use href="#mb" x="1617.9" y="1156.8"/><use href="#mb" x="1634.6" y="1157.6"/><use href="#mb" x="1651.3" y="1156.7"/><use href="#mb" x="1668.0" y="1154.3"/><use href="#mb" x="1684.7" y="1151.0"/><use href="#mb" x="1701.4" y="1147.5"/><use href="#mb" x="1718.1" y="1143.3"/><use href="#mb" x="1734.9" y="1137.3"/><use href="#mb" x="1751.6" y="1127.5"/><use href="#mb" x="1768.3" y="1113.2"/><use href="#mb" x="1785.0" y="1098.1"/><use href="#mb" x="1801.7" y="1074.8"/></g>
<g fill="#ff00ff"><use href="#mm" x="297.8" y="734.9"/><use href="#mm" x="314.5" y="740.1"/><use href="#mm" x="331.2" y="745.4"/><use href="#mm" x="347.9" y="750.6"/><use href="#mm" x="364.6" y="755.9"/><use href="#mm" x="381.4" y="761.3"/><use href="#mm" x="398.1" y="766.6"/><use href="#mm" x="414.8" y="772.1"/><use href="#mm" x="431.5" y="777.5"/><use href="#mm" x="448.2" y="783.0"/><use href="#mm" x="464.9" y="788.5"/><use href="#mm" x="481.6" y="794.1"/><use href="#mm" x="498.3" y="799.8"/><use href="#mm" x="515.0" y="805.5"/><use href="#mm" x="531.7" y="811.4"/><use href="#mm" x="548.5" y="817.2"/><use href="#mm" x="565.2" y="823.0"/><use href="#mm" x="581.9" y="828.8"/><use href="#mm" x="598.6" y="834.5"/><use href="#mm" x="615.3" y="840.1"/><use href="#mm" x="632.0" y="845.6"/><use href="#mm" x="648.7" y="851.0"/><use href="#mm" x="665.4" y="856.1"/><use href="#mm" x="682.1" y="861.3"/><use href="#mm" x="698.8" y="866.5"/><use href="#mm" x="715.5" y="871.8"/><use href="#mm" x="732.3" y="877.4"/><use href="#mm" x="749.0" y="883.1"/><use href="#mm" x="765.7" y="889.0"/><use href="#mm" x="782.4" y="894.9"/><use href="#mm" x="799.1" y="901.0"/><use href="#mm" x="815.8" y="907.3"/><use href="#mm" x="832.5" y="913.7"/><use href="#mm" x="849.2" y="920.2"/><use href="#mm" x="865.9" y="926.8"/><use href="#mm" x="882.7" y="933.2"/><use href="#mm" x="899.4" y="939.5"/><use href="#mm" x="916.1" y="945.7"/><use href="#mm" x="932.8" y="951.9"/><use href="#mm" x="949.5" y="958.1"/><use href="#mm" x="966.2" y="964.1"/><use href="#mm" x="982.9" y="970.0"/><use href="#mm" x="999.6" y="975.8"/><use href="#mm" x="1016.3" y="981.6"/><use href="#mm" x="1033.0" y="987.4"/><use href="#mm" x="1049.8" y="993.3"/><use href="#mm" x="1066.5" y="999.5"/><use href="#mm" x="1083.2" y="1005.9"/><use href="#mm" x="1099.9" y="1012.3"/><use href="#mm" x="1116.6" y="1018.5"/><use href="#mm" x="1133.3" y="1024.2"/><use href="#mm" x="1150.0" y="1029.4"/><use href="#mm" x="1166.7" y="1034.2"/><use href="#mm" x="1183.4" y="1038.8"/><use href="#mm" x="1200.1" y="1043.5"/><use href="#mm" x="1216.8" y="1048.6"/><use href="#mm" x="1233.6" y="1054.4"/><use href="#mm" x="1250.3" y="1060.7"/><use href="#mm" x="1267.0" y="1067.2"/><use href="#mm" x="1283.7" y="1073.4"/><use href="#mm" x="1300.4" y="1079.0"/><use href="#mm" x="1317.1" y="1083.9"/><use href="#mm" x="1333.8" y="1088.3"/><use href="#mm" x="1350.5" y="1092.6"/><use href="#mm" x="1367.2" y="1096.9"/><use href="#mm" x="1383.9" y="1101.6"/><use href="#mm" x="1400.7" y="1106.8"/><use href="#mm" x="1417.4" y="1112.4"/><use href="#mm" x="1434.1" y="1118.0"/><use href="#mm" x="1450.8" y="1123.7"/><use href="#mm" x="1467.5" y="1129.0"/><use href="#mm" x="1484.2" y="1134.3"/><use href="#mm" x="1500.9" y="1139.7"/><use href="#mm" x="1517.6" y="1144.8"/><use href="#mm" x="1534.3" y="1149.5"/><use href="#mm" x="1551.0" y="1153.4"/><use href="#mm" x="1567.8" y="1157.0"/><use href="#mm" x="1584.5" y="1160.5"/><use href="#mm" x="1601.2" y="1163.5"/><use href="#mm" x="1617.9" y="1165.7"/><use href="#mm" x="1634.6" y="1166.5"/><use href="#mm" x="1651.3" y="1163.5"/><use href="#mm" x="1668.0" y="1161.6"/><use href="#mm" x="1684.7" y="1159.4"/><use href="#mm" x="1701.4" y="1154.9"/><use href="#mm" x="1718.1" y="1149.3"/><use href="#mm" x="1734.9" y="1143.6"/><use href="#mm" x="1751.6" y="1137.5"/><use href="#mm" x="1768.3" y="1131.0"/><use href="#mm" x="1785.0" y="1123.2"/><use href="#mm" x="1801.7" y="1114.7"/></g>
<g fill="#008000"><use href="#mg" x="297.8" y="757.5"/><use href="#mg" x="314.5" y="763.8"/><use href="#mg" x="331.2" y="769.9"/><use href="#mg" x="347.9" y="776.0"/><use href="#mg" x="364.6" y="782.1"/><use href="#mg" x="381.4" y="788.0"/><use href="#mg" x="398.1" y="794.0"/><use href="#mg" x="414.8" y="799.8"/><use href="#mg" x="431.5" y="805.6"/><use href="#mg" x="448.2" y="811.4"/><use href="#mg" x="464.9" y="817.1"/><use href="#mg" x="481.6" y="822.6"/><use href="#mg" x="498.3" y="828.1"/><use href="#mg" x="515.0" y="833.4"/><use href="#mg" x="531.7" y="838.9"/><use href="#mg" x="548.5" y="844.5"/><use href="#mg" x="565.2" y="850.4"/><use href="#mg" x="581.9" y="856.5"/><use href="#mg" x="598.6" y="862.7"/><use href="#mg" x="615.3" y="868.7"/><use href="#mg" x="632.0" y="874.2"/><use href="#mg" x="648.7" y="879.2"/><use href="#mg" x="665.4" y="883.9"/><use href="#mg" x="682.1" y="888.4"/><use href="#mg" x="698.8" y="893.0"/><use href="#mg" x="715.5" y="898.0"/><use href="#mg" x="732.3" y="903.4"/><use href="#mg" x="749.0" y="909.0"/><use href="#mg" x="765.7" y="914.8"/><use href="#mg" x="782.4" y="920.9"/><use href="#mg" x="799.1" y="927.2"/><use href="#mg" x="815.8" y="934.0"/><use href="#mg" x="832.5" y="941.3"/><use href="#mg" x="849.2" y="948.8"/><use href="#mg" x="865.9" y="956.1"/><use href="#mg" x="882.7" y="962.9"/><use href="#mg" x="899.4" y="969.2"/><use href="#mg" x="916.1" y="975.2"/><use href="#mg" x="932.8" y="981.0"/><use href="#mg" x="949.5" y="986.7"/><use href="#mg" x="966.2" y="992.7"/><use href="#mg" x="982.9" y="998.8"/><use href="#mg" x="999.6" y="1005.0"/><use href="#mg" x="1016.3" y="1011.3"/><use href="#mg" x="1033.0" y="1017.5"/><use href="#mg" x="1049.8" y="1023.6"/><use href="#mg" x="1066.5" y="1029.8"/><use href="#mg" x="1083.2" y="1036.0"/><use href="#mg" x="1099.9" y="1042.1"/><use href="#mg" x="1116.6" y="1047.9"/><use href="#mg" x="1133.3" y="1053.4"/><use href="#mg" x="1150.0" y="1058.4"/><use href="#mg" x="1166.7" y="1063.0"/><use href="#mg" x="1183.4" y="1067.5"/><use href="#mg" x="1200.1" y="1072.1"/><use href="#mg" x="1216.8" y="1076.9"/><use href="#mg" x="1233.6" y="1082.2"/><use href="#mg" x="1250.3" y="1087.7"/><use href="#mg" x="1267.0" y="1093.4"/><use href="#mg" x="1283.7" y="1099.1"/><use href="#mg" x="1300.4" y="1104.6"/><use href="#mg" x="1317.1" y="1110.1"/><use href="#mg" x="1333.8" y="1115.5"/><use href="#mg" x="1350.5" y="1120.9"/><use href="#mg" x="1367.2" y="1126.2"/><use href="#mg" x="1383.9" y="1131.4"/><use href="#mg" x="1400.7" y="1136.4"/><use href="#mg" x="1417.4" y="1141.2"/><use href="#mg" x="1434.1" y="1146.0"/><use href="#mg" x="1450.8" y="1151.0"/><use href="#mg" x="1467.5" y="1156.4"/><use href="#mg" x="1484.2" y="1160.3"/><use href="#mg" x="1500.9" y="1164.0"/><use href="#mg" x="1517.6" y="1167.1"/><use href="#mg" x="1534.3" y="1169.3"/><use href="#mg" x="1551.0" y="1170.1"/><use href="#mg" x="1567.8" y="1169.6"/><use href="#mg" x="1584.5" y="1168.5"/><use href="#mg" x="1601.2" y="1166.9"/><use href="#mg" x="1617.9" y="1165.1"/><use href="#mg" x="1634.6" y="1163.5"/><use href="#mg" x="1651.3" y="1162.2"/><use href="#mg" x="1668.0" y="1160.6"/><use href="#mg" x="1684.7" y="1157.4"/><use href="#mg" x="1701.4" y="1153.4"/><use href="#mg" x="1718.1" y="1149.3"/><use href="#mg" x="1734.9" y="1146.0"/><use href="#mg" x="1751.6" y="1138.3"/><use href="#mg" x="1768.3" y="1127.8"/><use href="#mg" x="1785.0" y="1118.9"/><use href="#mg" x="1801.7" y="1114.1"/></g>
<g fill="#000080"><use href="#mn" x="297.8" y="798.8"/><use href="#mn" x="314.5" y="803.8"/><use href="#mn" x="331.2" y="808.9"/><use href="#mn" x="347.9" y="814.1"/><use href="#mn" x="364.6" y="819.4"/><use href="#mn" x="381.4" y="824.7"/><use href="#mn" x="398.1" y="830.1"/><use href="#mn" x="414.8" y="835.5"/><use href="#mn" x="431.5" y="841.0"/><use href="#mn" x="448.2" y="846.6"/><use href="#mn" x="464.9" y="852.2"/><use href="#mn" x="481.6" y="858.0"/><use href="#mn" x="498.3" y="863.9"/><use href="#mn" x="515.0" y="870.0"/><use href="#mn" x="531.7" y="876.2"/><use href="#mn" x="548.5" y="882.5"/><use href="#mn" x="565.2" y="888.7"/><use href="#mn" x="581.9" y="894.8"/><use href="#mn" x="598.6" y="900.9"/><use href="#mn" x="615.3" y="906.7"/><use href="#mn" x="632.0" y="912.3"/><use href="#mn" x="648.7" y="917.6"/><use href="#mn" x="665.4" y="922.7"/><use href="#mn" x="682.1" y="927.6"/><use href="#mn" x="698.8" y="932.6"/><use href="#mn" x="715.5" y="937.9"/><use href="#mn" x="732.3" y="943.4"/><use href="#mn" x="749.0" y="949.0"/><use href="#mn" x="765.7" y="954.7"/><use href="#mn" x="782.4" y="960.7"/><use href="#mn" x="799.1" y="967.1"/><use href="#mn" x="815.8" y="974.1"/><use href="#mn" x="832.5" y="981.7"/><use href="#mn" x="849.2" y="989.6"/><use href="#mn" x="865.9" y="997.4"/><use href="#mn" x="882.7" y="1004.6"/><use href="#mn" x="899.4" y="1011.3"/><use href="#mn" x="916.1" y="1017.7"/><use href="#mn" x="932.8" y="1023.9"/><use href="#mn" x="949.5" y="1030.0"/><use href="#mn" x="966.2" y="1036.1"/><use href="#mn" x="982.9" y="1042.2"/><use href="#mn" x="999.6" y="1048.2"/><use href="#mn" x="1016.3" y="1054.1"/><use href="#mn" x="1033.0" y="1060.0"/><use href="#mn" x="1049.8" y="1065.9"/><use href="#mn" x="1066.5" y="1072.1"/><use href="#mn" x="1083.2" y="1078.6"/><use href="#mn" x="1099.9" y="1084.9"/><use href="#mn" x="1116.6" y="1090.7"/><use href="#mn" x="1133.3" y="1095.7"/><use href="#mn" x="1150.0" y="1099.6"/><use href="#mn" x="1166.7" y="1102.9"/><use href="#mn" x="1183.4" y="1106.0"/><use href="#mn" x="1200.1" y="1109.2"/><use href="#mn" x="1216.8" y="1112.9"/><use href="#mn" x="1233.6" y="1117.7"/><use href="#mn" x="1250.3" y="1123.2"/><use href="#mn" x="1267.0" y="1128.9"/><use href="#mn" x="1283.7" y="1134.2"/><use href="#mn" x="1300.4" y="1138.5"/><use href="#mn" x="1317.1" y="1141.9"/><use href="#mn" x="1333.8" y="1144.8"/><use href="#mn" x="1350.5" y="1147.5"/><use href="#mn" x="1367.2" y="1150.1"/><use href="#mn" x="1383.9" y="1152.8"/><use href="#mn" x="1400.7" y="1156.0"/><use href="#mn" x="1417.4" y="1159.2"/><use href="#mn" x="1434.1" y="1161.7"/><use href="#mn" x="1450.8" y="1163.1"/><use href="#mn" x="1467.5" y="1164.1"/><use href="#mn" x="1484.2" y="1166.0"/><use href="#mn" x="1500.9" y="1168.6"/><use href="#mn" x="1517.6" y="1171.2"/><use href="#mn" x="1534.3" y="1173.2"/><use href="#mn" x="1551.0" y="1174.0"/><use href="#mn" x="1567.8" y="1174.0"/><use href="#mn" x="1584.5" y="1173.8"/><use href="#mn" x="1601.2" y="1173.5"/><use href="#mn" x="1617.9" y="1173.0"/><use href="#mn" x="1634.6" y="1172.5"/><use href="#mn" x="1651.3" y="1170.2"/><use href="#mn" x="1668.0" y="1165.7"/><use href="#mn" x="1684.7" y="1160.6"/><use href="#mn" x="1701.4" y="1154.6"/><use href="#mn" x="1718.1" y="1146.3"/><use href="#mn" x="1734.9" y="1138.5"/><use href="#mn" x="1751.6" y="1129.6"/><use href="#mn" x="1768.3" y="1120.7"/><use href="#mn" x="1785.0" y="1111.7"/><use href="#mn" x="1801.7" y="1092.7"/></g>
<g fill="#000000"><use href="#mk" x="297.8" y="1679.4"/><use href="#mk" x="314.5" y="1675.0"/><use href="#mk" x="331.2" y="1670.8"/><use href="#mk" x="347.9" y="1666.6"/><use href="#mk" x="364.6" y="1662.7"/><use href="#mk" x="381.4" y="1658.6"/><use href="#mk" x="398.1" y="1653.9"/><use href="#mk" x="414.8" y="1647.4"/><use href="#mk" x="431.5" y="1634.6"/><use href="#mk" x="448.2" y="1624.2"/><use href="#mk" x="464.9" y="1609.0"/><use href="#mk" x="481.6" y="1593.8"/><use href="#mk" x="498.3" y="1576.2"/><use href="#mk" x="515.0" y="1554.6"/><use href="#mk" x="531.7" y="1521.0"/><use href="#mk" x="548.5" y="1489.0"/><use href="#mk" x="565.2" y="1451.4"/><use href="#mk" x="581.9" y="1413.8"/><use href="#mk" x="598.6" y="1382.3"/><use href="#mk" x="615.3" y="1351.4"/><use href="#mk" x="632.0" y="1321.0"/><use href="#mk" x="648.7" y="1322.6"/><use href="#mk" x="665.4" y="1362.6"/><use href="#mk" x="682.1" y="1407.4"/><use href="#mk" x="698.8" y="1451.1"/><use href="#mk" x="715.5" y="1505.0"/><use href="#mk" x="732.3" y="1553.0"/><use href="#mk" x="749.0" y="1594.6"/><use href="#mk" x="765.7" y="1618.6"/><use href="#mk" x="782.4" y="1639.4"/><use href="#mk" x="799.1" y="1657.0"/><use href="#mk" x="815.8" y="1676.2"/><use href="#mk" x="832.5" y="1693.8"/><use href="#mk" x="849.2" y="1708.2"/><use href="#mk" x="865.9" y="1719.4"/><use href="#mk" x="882.7" y="1729.0"/><use href="#mk" x="899.4" y="1737.0"/><use href="#mk" x="916.1" y="1744.3"/><use href="#mk" x="932.8" y="1750.6"/><use href="#mk" x="949.5" y="1755.4"/><use href="#mk" x="966.2" y="1759.4"/><use href="#mk" x="982.9" y="1762.8"/><use href="#mk" x="999.6" y="1765.9"/><use href="#mk" x="1016.3" y="1768.8"/><use href="#mk" x="1033.0" y="1771.4"/><use href="#mk" x="1049.8" y="1773.8"/><use href="#mk" x="1066.5" y="1776.1"/><use href="#mk" x="1083.2" y="1778.4"/><use href="#mk" x="1099.9" y="1780.4"/><use href="#mk" x="1116.6" y="1782.1"/><use href="#mk" x="1133.3" y="1783.4"/><use href="#mk" x="1150.0" y="1784.4"/><use href="#mk" x="1166.7" y="1785.3"/><use href="#mk" x="1183.4" y="1786.2"/><use href="#mk" x="1200.1" y="1787.0"/><use href="#mk" x="1216.8" y="1787.7"/><use href="#mk" x="1233.6" y="1788.4"/><use href="#mk" x="1250.3" y="1788.9"/><use href="#mk" x="1267.0" y="1789.3"/><use href="#mk" x="1283.7" y="1789.6"/><use href="#mk" x="1300.4" y="1789.8"/><use href="#mk" x="1317.1" y="1789.9"/><use href="#mk" x="1333.8" y="1790.0"/><use href="#mk" x="1350.5" y="1790.1"/><use href="#mk" x="1367.2" y="1790.2"/><use href="#mk" x="1383.9" y="1790.3"/><use href="#mk" x="1400.7" y="1790.4"/><use href="#mk" x="1417.4" y="1790.5"/><use href="#mk" x="1434.1" y="1790.6"/><use href="#mk" x="1450.8" y="1790.7"/><use href="#mk" x="1467.5" y="1790.7"/><use href="#mk" x="1484.2" y="1790.8"/><use href="#mk" x="1500.9" y="1790.9"/><use href="#mk" x="1517.6" y="1790.9"/><use href="#mk" x="1534.3" y="1791.0"/><use href="#mk" x="1551.0" y="1791.0"/><use href="#mk" x="1567.8" y="1791.1"/><use href="#mk" x="1584.5" y="1791.1"/><use href="#mk" x="1601.2" y="1791.2"/><use href="#mk" x="1617.9" y="1791.2"/><use href="#mk" x="1634.6" y="1791.2"/><use href="#mk" x="1651.3" y="1791.3"/><use href="#mk" x="1668.0" y="1791.3"/><use href="#mk" x="1684.7" y="1791.3"/><use href="#mk" x="1701.4" y="1791.3"/><use href="#mk" x="1718.1" y="1791.4"/><use href="#mk" x="1734.9" y="1791.4"/><use href="#mk" x="1751.6" y="1791.4"/><use href="#mk" x="1768.3" y="1791.4"/><use href="#mk" x="1785.0" y="1791.4"/><use href="#mk" x="1801.7" y="1791.4"/></g>
<g fill="#ff0000"><use href="#mr" x="297.8" y="1748.5"/><use href="#mr" x="314.5" y="1744.1"/><use href="#mr" x="331.2" y="1739.5"/><use href="#mr" x="347.9" y="1734.8"/><use href="#mr" x="364.6" y="1730.0"/><use href="#mr" x="381.4" y="1725.2"/><use href="#mr" x="398.1" y="1720.1"/><use href="#mr" x="414.8" y="1715.0"/><use href="#mr" x="431.5" y="1709.7"/><use href="#mr" x="448.2" y="1704.4"/><use href="#mr" x="464.9" y="1699.1"/><use href="#mr" x="481.6" y="1694.0"/><use href="#mr" x="498.3" y="1689.2"/><use href="#mr" x="515.0" y="1684.4"/><use href="#mr" x="531.7" y="1679.3"/><use href="#mr" x="548.5" y="1673.6"/><use href="#mr" x="565.2" y="1667.0"/><use href="#mr" x="581.9" y="1658.2"/><use href="#mr" x="598.6" y="1648.8"/><use href="#mr" x="615.3" y="1640.4"/><use href="#mr" x="632.0" y="1628.6"/><use href="#mr" x="648.7" y="1614.0"/><use href="#mr" x="665.4" y="1597.8"/><use href="#mr" x="682.1" y="1578.3"/><use href="#mr" x="698.8" y="1559.3"/><use href="#mr" x="715.5" y="1546.3"/><use href="#mr" x="732.3" y="1537.9"/><use href="#mr" x="749.0" y="1532.2"/><use href="#mr" x="765.7" y="1529.0"/><use href="#mr" x="782.4" y="1529.0"/><use href="#mr" x="799.1" y="1538.6"/><use href="#mr" x="815.8" y="1553.0"/><use href="#mr" x="832.5" y="1571.4"/><use href="#mr" x="849.2" y="1586.6"/><use href="#mr" x="865.9" y="1601.8"/><use href="#mr" x="882.7" y="1617.8"/><use href="#mr" x="899.4" y="1634.6"/><use href="#mr" x="916.1" y="1650.6"/><use href="#mr" x="932.8" y="1668.2"/><use href="#mr" x="949.5" y="1685.0"/><use href="#mr" x="966.2" y="1703.4"/><use href="#mr" x="982.9" y="1712.2"/><use href="#mr" x="999.6" y="1719.4"/><use href="#mr" x="1016.3" y="1725.5"/><use href="#mr" x="1033.0" y="1732.2"/><use href="#mr" x="1049.8" y="1742.5"/><use href="#mr" x="1066.5" y="1753.0"/><use href="#mr" x="1083.2" y="1760.5"/><use href="#mr" x="1099.9" y="1766.6"/><use href="#mr" x="1116.6" y="1771.6"/><use href="#mr" x="1133.3" y="1775.4"/><use href="#mr" x="1150.0" y="1778.0"/><use href="#mr" x="1166.7" y="1780.2"/><use href="#mr" x="1183.4" y="1782.6"/><use href="#mr" x="1200.1" y="1784.9"/><use href="#mr" x="1216.8" y="1786.6"/><use href="#mr" x="1233.6" y="1787.9"/><use href="#mr" x="1250.3" y="1789.0"/><use href="#mr" x="1267.0" y="1790.0"/><use href="#mr" x="1283.7" y="1790.7"/><use href="#mr" x="1300.4" y="1791.1"/><use href="#mr" x="1317.1" y="1791.3"/><use href="#mr" x="1333.8" y="1791.5"/><use href="#mr" x="1350.5" y="1791.6"/><use href="#mr" x="1367.2" y="1791.7"/><use href="#mr" x="1383.9" y="1791.7"/><use href="#mr" x="1400.7" y="1791.7"/><use href="#mr" x="1417.4" y="1791.7"/><use href="#mr" x="1434.1" y="1791.7"/><use href="#mr" x="1450.8" y="1791.7"/><use href="#mr" x="1467.5" y="1791.7"/><use href="#mr" x="1484.2" y="1791.7"/><use href="#mr" x="1500.9" y="1791.7"/><use href="#mr" x="1517.6" y="1791.7"/><use href="#mr" x="1534.3" y="1791.7"/><use href="#mr" x="1551.0" y="1791.7"/><use href="#mr" x="1567.8" y="1791.7"/><use href="#mr" x="1584.5" y="1791.7"/><use href="#mr" x="1601.2" y="1791.7"/><use href="#mr" x="1617.9" y="1791.7"/><use href="#mr" x="1634.6" y="1791.7"/><use href="#mr" x="1651.3" y="1791.7"/><use href="#mr" x="1668.0" y="1791.7"/><use href="#mr" x="1684.7" y="1791.7"/><use href="#mr" x="1701.4" y="1791.7"/><use href="#mr" x="1718.1" y="1791.7"/><use href="#mr" x="1734.9" y="1791.7"/><use href="#mr" x="1751.6" y="1791.7"/><use href="#mr" x="1768.3" y="1791.7"/><use href="#mr" x="1785.0" y="1791.7"/><use href="#mr" x="1801.7" y="1791.7"/></g>
<g fill="#0000ff"><use href="#mb" x="297.8" y="1735.2"/><use href="#mb" x="314.5" y="1730.3"/><use href="#mb" x="331.2" y="1725.2"/><use href="#mb" x="347.9" y="1720.0"/><use href="#mb" x="364.6" y="1714.6"/><use href="#mb" x="381.4" y="1709.0"/><use href="#mb" x="398.1" y="1703.0"/><use href="#mb" x="414.8" y="1697.1"/><use href="#mb" x="431.5" y="1691.2"/><use href="#mb" x="448.2" y="1685.8"/><use href="#mb" x="464.9" y="1680.8"/><use href="#mb" x="481.6" y="1676.0"/><use href="#mb" x="498.3" y="1671.5"/><use href="#mb" x="515.0" y="1667.0"/><use href="#mb" x="531.7" y="1662.4"/><use href="#mb" x="548.5" y="1657.8"/><use href="#mb" x="565.2" y="1653.3"/><use href="#mb" x="581.9" y="1648.8"/><use href="#mb" x="598.6" y="1643.9"/><use href="#mb" x="615.3" y="1637.8"/><use href="#mb" x="632.0" y="1629.8"/><use href="#mb" x="648.7" y="1618.7"/><use href="#mb" x="665.4" y="1605.8"/><use href="#mb" x="682.1" y="1592.2"/><use href="#mb" x="698.8" y="1581.8"/><use href="#mb" x="715.5" y="1573.0"/><use href="#mb" x="732.3" y="1562.6"/><use href="#mb" x="749.0" y="1553.8"/><use href="#mb" x="765.7" y="1548.2"/><use href="#mb" x="782.4" y="1545.9"/><use href="#mb" x="799.1" y="1545.0"/><use href="#mb" x="815.8" y="1545.0"/><use href="#mb" x="832.5" y="1548.2"/><use href="#mb" x="849.2" y="1559.4"/><use href="#mb" x="865.9" y="1569.0"/><use href="#mb" x="882.7" y="1579.4"/><use href="#mb" x="899.4" y="1597.8"/><use href="#mb" x="916.1" y="1612.2"/><use href="#mb" x="932.8" y="1628.8"/><use href="#mb" x="949.5" y="1649.8"/><use href="#mb" x="966.2" y="1670.6"/><use href="#mb" x="982.9" y="1688.2"/><use href="#mb" x="999.6" y="1701.2"/><use href="#mb" x="1016.3" y="1713.3"/><use href="#mb" x="1033.0" y="1721.5"/><use href="#mb" x="1049.8" y="1734.4"/><use href="#mb" x="1066.5" y="1742.6"/><use href="#mb" x="1083.2" y="1749.0"/><use href="#mb" x="1099.9" y="1755.6"/><use href="#mb" x="1116.6" y="1760.4"/><use href="#mb" x="1133.3" y="1764.5"/><use href="#mb" x="1150.0" y="1767.3"/><use href="#mb" x="1166.7" y="1769.8"/><use href="#mb" x="1183.4" y="1772.5"/><use href="#mb" x="1200.1" y="1775.2"/><use href="#mb" x="1216.8" y="1777.5"/><use href="#mb" x="1233.6" y="1779.3"/><use href="#mb" x="1250.3" y="1781.0"/><use href="#mb" x="1267.0" y="1782.6"/><use href="#mb" x="1283.7" y="1783.9"/><use href="#mb" x="1300.4" y="1785.0"/><use href="#mb" x="1317.1" y="1786.0"/><use href="#mb" x="1333.8" y="1786.9"/><use href="#mb" x="1350.5" y="1787.6"/><use href="#mb" x="1367.2" y="1788.3"/><use href="#mb" x="1383.9" y="1788.8"/><use href="#mb" x="1400.7" y="1789.3"/><use href="#mb" x="1417.4" y="1789.8"/><use href="#mb" x="1434.1" y="1790.2"/><use href="#mb" x="1450.8" y="1790.4"/><use href="#mb" x="1467.5" y="1790.6"/><use href="#mb" x="1484.2" y="1790.7"/><use href="#mb" x="1500.9" y="1790.8"/><use href="#mb" x="1517.6" y="1790.8"/><use href="#mb" x="1534.3" y="1790.9"/><use href="#mb" x="1551.0" y="1791.0"/><use href="#mb" x="1567.8" y="1791.0"/><use href="#mb" x="1584.5" y="1791.1"/><use href="#mb" x="1601.2" y="1791.1"/><use href="#mb" x="1617.9" y="1791.2"/><use href="#mb" x="1634.6" y="1791.2"/><use href="#mb" x="1651.3" y="1791.3"/><use href="#mb" x="1668.0" y="1791.3"/><use href="#mb" x="1684.7" y="1791.3"/><use href="#mb" x="1701.4" y="1791.3"/><use href="#mb" x="1718.1" y="1791.4"/><use href="#mb" x="1734.9" y="1791.4"/><use href="#mb" x="1751.6" y="1791.4"/><use href="#mb" x="1768.3" y="1791.4"/><use href="#mb" x="1785.0" y="1791.4"/><use href="#mb" x="1801.7" y="1791.4"/></g>
<g fill="#ff00ff"><use href="#mm" x="297.8" y="1706.3"/><use href="#mm" x="314.5" y="1702.0"/><use href="#mm" x="331.2" y="1697.6"/><use href="#mm" x="347.9" y="1693.2"/><use href="#mm" x="364.6" y="1688.7"/><use href="#mm" x="381.4" y="1684.2"/><use href="#mm" x="398.1" y="1679.8"/><use href="#mm" x="414.8" y="1675.4"/><use href="#mm" x="431.5" y="1670.8"/><use href="#mm" x="448.2" y="1665.6"/><use href="#mm" x="464.9" y="1659.4"/><use href="#mm" x="481.6" y="1652.2"/><use href="#mm" x="498.3" y="1644.9"/><use href="#mm" x="515.0" y="1638.1"/><use href="#mm" x="531.7" y="1632.4"/><use href="#mm" x="548.5" y="1627.2"/><use href="#mm" x="565.2" y="1621.8"/><use href="#mm" x="581.9" y="1615.4"/><use href="#mm" x="598.6" y="1607.2"/><use href="#mm" x="615.3" y="1597.8"/><use href="#mm" x="632.0" y="1587.7"/><use href="#mm" x="648.7" y="1578.0"/><use href="#mm" x="665.4" y="1560.2"/><use href="#mm" x="682.1" y="1542.3"/><use href="#mm" x="698.8" y="1523.4"/><use href="#mm" x="715.5" y="1501.2"/><use href="#mm" x="732.3" y="1484.2"/><use href="#mm" x="749.0" y="1468.7"/><use href="#mm" x="765.7" y="1457.5"/><use href="#mm" x="782.4" y="1466.4"/><use href="#mm" x="799.1" y="1479.4"/><use href="#mm" x="815.8" y="1509.5"/><use href="#mm" x="832.5" y="1551.4"/><use href="#mm" x="849.2" y="1584.0"/><use href="#mm" x="865.9" y="1621.8"/><use href="#mm" x="882.7" y="1655.4"/><use href="#mm" x="899.4" y="1681.0"/><use href="#mm" x="916.1" y="1701.8"/><use href="#mm" x="932.8" y="1716.2"/><use href="#mm" x="949.5" y="1725.4"/><use href="#mm" x="966.2" y="1732.7"/><use href="#mm" x="982.9" y="1739.3"/><use href="#mm" x="999.6" y="1745.0"/><use href="#mm" x="1016.3" y="1749.6"/><use href="#mm" x="1033.0" y="1753.8"/><use href="#mm" x="1049.8" y="1758.1"/><use href="#mm" x="1066.5" y="1762.6"/><use href="#mm" x="1083.2" y="1768.6"/><use href="#mm" x="1099.9" y="1773.8"/><use href="#mm" x="1116.6" y="1776.6"/><use href="#mm" x="1133.3" y="1778.6"/><use href="#mm" x="1150.0" y="1780.2"/><use href="#mm" x="1166.7" y="1781.6"/><use href="#mm" x="1183.4" y="1782.9"/><use href="#mm" x="1200.1" y="1784.0"/><use href="#mm" x="1216.8" y="1785.0"/><use href="#mm" x="1233.6" y="1786.0"/><use href="#mm" x="1250.3" y="1786.9"/><use href="#mm" x="1267.0" y="1787.7"/><use href="#mm" x="1283.7" y="1788.4"/><use href="#mm" x="1300.4" y="1789.0"/><use href="#mm" x="1317.1" y="1789.5"/><use href="#mm" x="1333.8" y="1789.9"/><use href="#mm" x="1350.5" y="1790.3"/><use href="#mm" x="1367.2" y="1790.5"/><use href="#mm" x="1383.9" y="1790.6"/><use href="#mm" x="1400.7" y="1790.6"/><use href="#mm" x="1417.4" y="1790.6"/><use href="#mm" x="1434.1" y="1790.6"/><use href="#mm" x="1450.8" y="1790.6"/><use href="#mm" x="1467.5" y="1790.6"/><use href="#mm" x="1484.2" y="1790.6"/><use href="#mm" x="1500.9" y="1790.6"/><use href="#mm" x="1517.6" y="1790.6"/><use href="#mm" x="1534.3" y="1790.6"/><use href="#mm" x="1551.0" y="1790.6"/><use href="#mm" x="1567.8" y="1790.6"/><use href="#mm" x="1584.5" y="1790.6"/><use href="#mm" x="1601.2" y="1790.6"/><use href="#mm" x="1617.9" y="1790.6"/><use href="#mm" x="1634.6" y="1790.6"/><use href="#mm" x="1651.3" y="1790.6"/><use href="#mm" x="1668.0" y="1790.6"/><use href="#mm" x="1684.7" y="1790.6"/><use href="#mm" x="1701.4" y="1790.6"/><use href="#mm" x="1718.1" y="1790.6"/><use href="#mm" x="1734.9" y="1790.6"/><use href="#mm" x="1751.6" y="1790.6"/><use href="#mm" x="1768.3" y="1790.6"/><use href="#mm" x="1785.0" y="1790.6"/><use href="#mm" x="1801.7" y="1790.6"/></g>
<g fill="#008000"><use href="#mg" x="297.8" y="1674.4"/><use href="#mg" x="314.5" y="1666.6"/><use href="#mg" x="331.2" y="1658.6"/><use href="#mg" x="347.9" y="1650.4"/><use href="#mg" x="364.6" y="1642.2"/><use href="#mg" x="381.4" y="1633.8"/><use href="#mg" x="398.1" y="1625.3"/><use href="#mg" x="414.8" y="1616.7"/><use href="#mg" x="431.5" y="1607.9"/><use href="#mg" x="448.2" y="1598.9"/><use href="#mg" x="464.9" y="1589.8"/><use href="#mg" x="481.6" y="1580.4"/><use href="#mg" x="498.3" y="1570.6"/><use href="#mg" x="515.0" y="1560.2"/><use href="#mg" x="531.7" y="1549.8"/><use href="#mg" x="548.5" y="1532.2"/><use href="#mg" x="565.2" y="1506.6"/><use href="#mg" x="581.9" y="1483.7"/><use href="#mg" x="598.6" y="1449.5"/><use href="#mg" x="615.3" y="1417.0"/><use href="#mg" x="632.0" y="1368.5"/><use href="#mg" x="648.7" y="1344.2"/><use href="#mg" x="665.4" y="1337.0"/><use href="#mg" x="682.1" y="1353.0"/><use href="#mg" x="698.8" y="1383.9"/><use href="#mg" x="715.5" y="1415.4"/><use href="#mg" x="732.3" y="1442.6"/><use href="#mg" x="749.0" y="1477.8"/><use href="#mg" x="765.7" y="1511.4"/><use href="#mg" x="782.4" y="1548.2"/><use href="#mg" x="799.1" y="1577.8"/><use href="#mg" x="815.8" y="1598.6"/><use href="#mg" x="832.5" y="1625.8"/><use href="#mg" x="849.2" y="1646.6"/><use href="#mg" x="865.9" y="1673.0"/><use href="#mg" x="882.7" y="1695.4"/><use href="#mg" x="899.4" y="1711.4"/><use href="#mg" x="916.1" y="1722.6"/><use href="#mg" x="932.8" y="1731.4"/><use href="#mg" x="949.5" y="1739.4"/><use href="#mg" x="966.2" y="1746.6"/><use href="#mg" x="982.9" y="1752.6"/><use href="#mg" x="999.6" y="1757.8"/><use href="#mg" x="1016.3" y="1762.6"/><use href="#mg" x="1033.0" y="1766.6"/><use href="#mg" x="1049.8" y="1770.0"/><use href="#mg" x="1066.5" y="1773.1"/><use href="#mg" x="1083.2" y="1775.7"/><use href="#mg" x="1099.9" y="1777.8"/><use href="#mg" x="1116.6" y="1779.3"/><use href="#mg" x="1133.3" y="1780.6"/><use href="#mg" x="1150.0" y="1781.8"/><use href="#mg" x="1166.7" y="1783.1"/><use href="#mg" x="1183.4" y="1784.4"/><use href="#mg" x="1200.1" y="1785.6"/><use href="#mg" x="1216.8" y="1786.6"/><use href="#mg" x="1233.6" y="1787.4"/><use href="#mg" x="1250.3" y="1788.2"/><use href="#mg" x="1267.0" y="1788.8"/><use href="#mg" x="1283.7" y="1789.4"/><use href="#mg" x="1300.4" y="1789.8"/><use href="#mg" x="1317.1" y="1790.2"/><use href="#mg" x="1333.8" y="1790.5"/><use href="#mg" x="1350.5" y="1790.8"/><use href="#mg" x="1367.2" y="1791.0"/><use href="#mg" x="1383.9" y="1791.1"/><use href="#mg" x="1400.7" y="1791.1"/><use href="#mg" x="1417.4" y="1791.1"/><use href="#mg" x="1434.1" y="1791.2"/><use href="#mg" x="1450.8" y="1791.2"/><use href="#mg" x="1467.5" y="1791.2"/><use href="#mg" x="1484.2" y="1791.2"/><use href="#mg" x="1500.9" y="1791.3"/><use href="#mg" x="1517.6" y="1791.3"/><use href="#mg" x="1534.3" y="1791.3"/><use href="#mg" x="1551.0" y="1791.3"/><use href="#mg" x="1567.8" y="1791.3"/><use href="#mg" x="1584.5" y="1791.3"/><use href="#mg" x="1601.2" y="1791.3"/><use href="#mg" x="1617.9" y="1791.4"/><use href="#mg" x="1634.6" y="1791.4"/><use href="#mg" x="1651.3" y="1791.4"/><use href="#mg" x="1668.0" y="1791.4"/><use href="#mg" x="1684.7" y="1791.4"/><use href="#mg" x="1701.4" y="1791.4"/><use href="#mg" x="1718.1" y="1791.4"/><use href="#mg" x="1734.9" y="1791.4"/><use href="#mg" x="1751.6" y="1791.4"/><use href="#mg" x="1768.3" y="1791.4"/><use href="#mg" x="1785.0" y="1791.4"/><use href="#mg" x="1801.7" y="1791.4"/></g>
<g fill="#000080"><use href="#mn" x="297.8" y="1646.0"/><use href="#mn" x="314.5" y="1636.0"/><use href="#mn" x="331.2" y="1625.4"/><use href="#mn" x="347.9" y="1614.5"/><use href="#mn" x="364.6" y="1603.1"/><use href="#mn" x="381.4" y="1591.4"/><use href="#mn" x="398.1" y="1579.4"/><use href="#mn" x="414.8" y="1566.8"/><use href="#mn" x="431.5" y="1553.0"/><use href="#mn" x="448.2" y="1537.0"/><use href="#mn" x="464.9" y="1519.4"/><use href="#mn" x="481.6" y="1500.2"/><use href="#mn" x="498.3" y="1477.0"/><use href="#mn" x="515.0" y="1447.4"/><use href="#mn" x="531.7" y="1408.2"/><use href="#mn" x="548.5" y="1369.0"/><use href="#mn" x="565.2" y="1321.0"/><use href="#mn" x="581.9" y="1295.4"/><use href="#mn" x="598.6" y="1287.4"/><use href="#mn" x="615.3" y="1345.8"/><use href="#mn" x="632.0" y="1396.2"/><use href="#mn" x="648.7" y="1447.4"/><use href="#mn" x="665.4" y="1499.2"/><use href="#mn" x="682.1" y="1540.7"/><use href="#mn" x="698.8" y="1573.8"/><use href="#mn" x="715.5" y="1617.0"/><use href="#mn" x="732.3" y="1642.6"/><use href="#mn" x="749.0" y="1668.2"/><use href="#mn" x="765.7" y="1690.6"/><use href="#mn" x="782.4" y="1705.1"/><use href="#mn" x="799.1" y="1716.2"/><use href="#mn" x="815.8" y="1725.1"/><use href="#mn" x="832.5" y="1732.7"/><use href="#mn" x="849.2" y="1740.2"/><use href="#mn" x="865.9" y="1748.4"/><use href="#mn" x="882.7" y="1755.7"/><use href="#mn" x="899.4" y="1761.2"/><use href="#mn" x="916.1" y="1765.8"/><use href="#mn" x="932.8" y="1770.2"/><use href="#mn" x="949.5" y="1773.8"/><use href="#mn" x="966.2" y="1776.5"/><use href="#mn" x="982.9" y="1778.6"/><use href="#mn" x="999.6" y="1780.2"/><use href="#mn" x="1016.3" y="1781.8"/><use href="#mn" x="1033.0" y="1784.0"/><use href="#mn" x="1049.8" y="1786.0"/><use href="#mn" x="1066.5" y="1787.3"/><use href="#mn" x="1083.2" y="1788.4"/><use href="#mn" x="1099.9" y="1789.2"/><use href="#mn" x="1116.6" y="1790.0"/><use href="#mn" x="1133.3" y="1790.8"/><use href="#mn" x="1150.0" y="1791.4"/><use href="#mn" x="1166.7" y="1791.5"/><use href="#mn" x="1183.4" y="1791.6"/><use href="#mn" x="1200.1" y="1791.7"/><use href="#mn" x="1216.8" y="1791.8"/><use href="#mn" x="1233.6" y="1791.8"/><use href="#mn" x="1250.3" y="1791.8"/><use href="#mn" x="1267.0" y="1791.9"/><use href="#mn" x="1283.7" y="1791.9"/><use href="#mn" x="1300.4" y="1791.9"/><use href="#mn" x="1317.1" y="1791.9"/><use href="#mn" x="1333.8" y="1791.9"/><use href="#mn" x="1350.5" y="1791.9"/><use href="#mn" x="1367.2" y="1791.9"/><use href="#mn" x="1383.9" y="1791.9"/><use href="#mn" x="1400.7" y="1791.9"/><use href="#mn" x="1417.4" y="1791.9"/><use href="#mn" x="1434.1" y="1791.9"/><use href="#mn" x="1450.8" y="1791.9"/><use href="#mn" x="1467.5" y="1791.9"/><use href="#mn" x="1484.2" y="1791.9"/><use href="#mn" x="1500.9" y="1791.9"/><use href="#mn" x="1517.6" y="1791.9"/><use href="#mn" x="1534.3" y="1791.9"/><use href="#mn" x="1551.0" y="1791.9"/><use href="#mn" x="1567.8" y="1791.9"/><use href="#mn" x="1584.5" y="1791.9"/><use href="#mn" x="1601.2" y="1791.9"/><use href="#mn" x="1617.9" y="1791.9"/><use href="#mn" x="1634.6" y="1791.9"/><use href="#mn" x="1651.3" y="1791.9"/><use href="#mn" x="1668.0" y="1791.9"/><use href="#mn" x="1684.7" y="1791.9"/><use href="#mn" x="1701.4" y="1791.9"/><use href="#mn" x="1718.1" y="1791.9"/><use href="#mn" x="1734.9" y="1791.9"/><use href="#mn" x="1751.6" y="1791.9"/><use href="#mn" x="1768.3" y="1791.9"/><use href="#mn" x="1785.0" y="1791.9"/><use href="#mn" x="1801.7" y="1791.9"/></g>
<g stroke="#111" stroke-width="4.5" fill="none" stroke-linecap="butt"><path d="M235.5 50.0H1854.75"/><path d="M248.5 50.0V1827.25"/><path d="M1852.5 50.0V1838.0"/><path d="M248.5 642.3H1852.5"/><path d="M248.5 1231.0H1852.5"/><path d="M246.25 1825.0H1852.5"/></g><path d="M260.7 627.8V656.8M260.7 1216.5V1245.5M260.7 1825.0V1839.5M271.9 627.8V656.8M271.9 1216.5V1245.5M271.9 1825.0V1839.5M281.6 627.8V656.8M281.6 1216.5V1245.5M281.6 1825.0V1839.5M290.2 627.8V656.8M290.2 1216.5V1245.5M290.2 1825.0V1839.5M297.8 616.3V668.3M297.8 1205.0V1257.0M297.8 1825.0V1851.0M348.1 627.8V656.8M348.1 1216.5V1245.5M348.1 1825.0V1839.5M377.5 627.8V656.8M377.5 1216.5V1245.5M377.5 1825.0V1839.5M398.4 627.8V656.8M398.4 1216.5V1245.5M398.4 1825.0V1839.5M414.6 627.8V656.8M414.6 1216.5V1245.5M414.6 1825.0V1839.5M427.8 627.8V656.8M427.8 1216.5V1245.5M427.8 1825.0V1839.5M439.0 627.8V656.8M439.0 1216.5V1245.5M439.0 1825.0V1839.5M448.7 627.8V656.8M448.7 1216.5V1245.5M448.7 1825.0V1839.5M457.3 627.8V656.8M457.3 1216.5V1245.5M457.3 1825.0V1839.5M464.9 616.3V668.3M464.9 1205.0V1257.0M464.9 1825.0V1851.0M515.2 627.8V656.8M515.2 1216.5V1245.5M515.2 1825.0V1839.5M544.6 627.8V656.8M544.6 1216.5V1245.5M544.6 1825.0V1839.5M565.5 627.8V656.8M565.5 1216.5V1245.5M565.5 1825.0V1839.5M581.7 627.8V656.8M581.7 1216.5V1245.5M581.7 1825.0V1839.5M594.9 627.8V656.8M594.9 1216.5V1245.5M594.9 1825.0V1839.5M606.1 627.8V656.8M606.1 1216.5V1245.5M606.1 1825.0V1839.5M615.8 627.8V656.8M615.8 1216.5V1245.5M615.8 1825.0V1839.5M624.4 627.8V656.8M624.4 1216.5V1245.5M624.4 1825.0V1839.5M632.0 616.3V668.3M632.0 1205.0V1257.0M632.0 1825.0V1851.0M682.3 627.8V656.8M682.3 1216.5V1245.5M682.3 1825.0V1839.5M711.7 627.8V656.8M711.7 1216.5V1245.5M711.7 1825.0V1839.5M732.6 627.8V656.8M732.6 1216.5V1245.5M732.6 1825.0V1839.5M748.8 627.8V656.8M748.8 1216.5V1245.5M748.8 1825.0V1839.5M762.0 627.8V656.8M762.0 1216.5V1245.5M762.0 1825.0V1839.5M773.2 627.8V656.8M773.2 1216.5V1245.5M773.2 1825.0V1839.5M782.9 627.8V656.8M782.9 1216.5V1245.5M782.9 1825.0V1839.5M791.5 627.8V656.8M791.5 1216.5V1245.5M791.5 1825.0V1839.5M799.1 616.3V668.3M799.1 1205.0V1257.0M799.1 1825.0V1851.0M849.4 627.8V656.8M849.4 1216.5V1245.5M849.4 1825.0V1839.5M878.8 627.8V656.8M878.8 1216.5V1245.5M878.8 1825.0V1839.5M899.7 627.8V656.8M899.7 1216.5V1245.5M899.7 1825.0V1839.5M915.9 627.8V656.8M915.9 1216.5V1245.5M915.9 1825.0V1839.5M929.1 627.8V656.8M929.1 1216.5V1245.5M929.1 1825.0V1839.5M940.3 627.8V656.8M940.3 1216.5V1245.5M940.3 1825.0V1839.5M950.0 627.8V656.8M950.0 1216.5V1245.5M950.0 1825.0V1839.5M958.6 627.8V656.8M958.6 1216.5V1245.5M958.6 1825.0V1839.5M966.2 616.3V668.3M966.2 1205.0V1257.0M966.2 1825.0V1851.0M1016.5 627.8V656.8M1016.5 1216.5V1245.5M1016.5 1825.0V1839.5M1045.9 627.8V656.8M1045.9 1216.5V1245.5M1045.9 1825.0V1839.5M1066.8 627.8V656.8M1066.8 1216.5V1245.5M1066.8 1825.0V1839.5M1083.0 627.8V656.8M1083.0 1216.5V1245.5M1083.0 1825.0V1839.5M1096.2 627.8V656.8M1096.2 1216.5V1245.5M1096.2 1825.0V1839.5M1107.4 627.8V656.8M1107.4 1216.5V1245.5M1107.4 1825.0V1839.5M1117.1 627.8V656.8M1117.1 1216.5V1245.5M1117.1 1825.0V1839.5M1125.7 627.8V656.8M1125.7 1216.5V1245.5M1125.7 1825.0V1839.5M1133.3 616.3V668.3M1133.3 1205.0V1257.0M1133.3 1825.0V1851.0M1183.6 627.8V656.8M1183.6 1216.5V1245.5M1183.6 1825.0V1839.5M1213.0 627.8V656.8M1213.0 1216.5V1245.5M1213.0 1825.0V1839.5M1233.9 627.8V656.8M1233.9 1216.5V1245.5M1233.9 1825.0V1839.5M1250.1 627.8V656.8M1250.1 1216.5V1245.5M1250.1 1825.0V1839.5M1263.3 627.8V656.8M1263.3 1216.5V1245.5M1263.3 1825.0V1839.5M1274.5 627.8V656.8M1274.5 1216.5V1245.5M1274.5 1825.0V1839.5M1284.2 627.8V656.8M1284.2 1216.5V1245.5M1284.2 1825.0V1839.5M1292.8 627.8V656.8M1292.8 1216.5V1245.5M1292.8 1825.0V1839.5M1300.4 616.3V668.3M1300.4 1205.0V1257.0M1300.4 1825.0V1851.0M1350.7 627.8V656.8M1350.7 1216.5V1245.5M1350.7 1825.0V1839.5M1380.1 627.8V656.8M1380.1 1216.5V1245.5M1380.1 1825.0V1839.5M1401.0 627.8V656.8M1401.0 1216.5V1245.5M1401.0 1825.0V1839.5M1417.2 627.8V656.8M1417.2 1216.5V1245.5M1417.2 1825.0V1839.5M1430.4 627.8V656.8M1430.4 1216.5V1245.5M1430.4 1825.0V1839.5M1441.6 627.8V656.8M1441.6 1216.5V1245.5M1441.6 1825.0V1839.5M1451.3 627.8V656.8M1451.3 1216.5V1245.5M1451.3 1825.0V1839.5M1459.9 627.8V656.8M1459.9 1216.5V1245.5M1459.9 1825.0V1839.5M1467.5 616.3V668.3M1467.5 1205.0V1257.0M1467.5 1825.0V1851.0M1517.8 627.8V656.8M1517.8 1216.5V1245.5M1517.8 1825.0V1839.5M1547.2 627.8V656.8M1547.2 1216.5V1245.5M1547.2 1825.0V1839.5M1568.1 627.8V656.8M1568.1 1216.5V1245.5M1568.1 1825.0V1839.5M1584.3 627.8V656.8M1584.3 1216.5V1245.5M1584.3 1825.0V1839.5M1597.5 627.8V656.8M1597.5 1216.5V1245.5M1597.5 1825.0V1839.5M1608.7 627.8V656.8M1608.7 1216.5V1245.5M1608.7 1825.0V1839.5M1618.4 627.8V656.8M1618.4 1216.5V1245.5M1618.4 1825.0V1839.5M1627.0 627.8V656.8M1627.0 1216.5V1245.5M1627.0 1825.0V1839.5M1634.6 616.3V668.3M1634.6 1205.0V1257.0M1634.6 1825.0V1851.0M1684.9 627.8V656.8M1684.9 1216.5V1245.5M1684.9 1825.0V1839.5M1714.3 627.8V656.8M1714.3 1216.5V1245.5M1714.3 1825.0V1839.5M1735.2 627.8V656.8M1735.2 1216.5V1245.5M1735.2 1825.0V1839.5M1751.4 627.8V656.8M1751.4 1216.5V1245.5M1751.4 1825.0V1839.5M1764.6 627.8V656.8M1764.6 1216.5V1245.5M1764.6 1825.0V1839.5M1775.8 627.8V656.8M1775.8 1216.5V1245.5M1775.8 1825.0V1839.5M1785.5 627.8V656.8M1785.5 1216.5V1245.5M1785.5 1825.0V1839.5M1794.1 627.8V656.8M1794.1 1216.5V1245.5M1794.1 1825.0V1839.5M1801.7 616.3V668.3M1801.7 1205.0V1257.0M1801.7 1825.0V1851.0M248.5 1825.0V1839.0M222.5 626.2H248.5M222.5 461.5H248.5M222.5 296.9H248.5M222.5 132.2H248.5M234.5 543.9H248.5M234.5 379.2H248.5M234.5 214.6H248.5M222.5 1117.7H248.5M222.5 939.1H248.5M222.5 760.5H248.5M234.5 1207.0H248.5M234.5 1028.4H248.5M234.5 849.8H248.5M234.5 671.2H248.5M222.5 1793.0H248.5M222.5 1665.0H248.5M222.5 1537.0H248.5M222.5 1409.0H248.5M222.5 1281.0H248.5M234.5 1729.0H248.5M234.5 1601.0H248.5M234.5 1473.0H248.5M234.5 1345.0H248.5" stroke="#111" stroke-width="3.6" fill="none"/>
<text class="bd" transform="translate(207.5,642.9) scale(.92,1)" font-size="58" text-anchor="end">0</text>
<text class="bd" transform="translate(207.5,478.2) scale(.92,1)" font-size="58" text-anchor="end">2</text>
<text class="bd" transform="translate(207.5,313.6) scale(.92,1)" font-size="58" text-anchor="end">4</text>
<text class="bd" transform="translate(207.5,148.9) scale(.92,1)" font-size="58" text-anchor="end">6</text>
<text class="bd" transform="translate(207.5,1134.4) scale(.92,1)" font-size="58" text-anchor="end">0</text>
<text class="bd" transform="translate(207.5,955.8) scale(.92,1)" font-size="58" text-anchor="end">3</text>
<text class="bd" transform="translate(207.5,777.2) scale(.92,1)" font-size="58" text-anchor="end">6</text>
<text class="bd" transform="translate(207.5,1809.7) scale(.92,1)" font-size="58" text-anchor="end">0</text>
<text class="bd" transform="translate(207.5,1681.7) scale(.92,1)" font-size="58" text-anchor="end">8</text>
<text class="bd" transform="translate(207.5,1553.7) scale(.92,1)" font-size="58" text-anchor="end">16</text>
<text class="bd" transform="translate(207.5,1425.7) scale(.92,1)" font-size="58" text-anchor="end">24</text>
<text class="bd" transform="translate(207.5,1297.7) scale(.92,1)" font-size="58" text-anchor="end">32</text>
<text x="298.3" y="1918" font-size="54" text-anchor="middle">10<tspan dy="-32" font-size="32">-2</tspan></text>
<text x="465.4" y="1918" font-size="54" text-anchor="middle">10<tspan dy="-32" font-size="32">-1</tspan></text>
<text x="632.5" y="1918" font-size="54" text-anchor="middle">10<tspan dy="-32" font-size="32">0</tspan></text>
<text x="799.6" y="1918" font-size="54" text-anchor="middle">10<tspan dy="-32" font-size="32">1</tspan></text>
<text x="966.7" y="1918" font-size="54" text-anchor="middle">10<tspan dy="-32" font-size="32">2</tspan></text>
<text x="1133.8" y="1918" font-size="54" text-anchor="middle">10<tspan dy="-32" font-size="32">3</tspan></text>
<text x="1300.9" y="1918" font-size="54" text-anchor="middle">10<tspan dy="-32" font-size="32">4</tspan></text>
<text x="1468.0" y="1918" font-size="54" text-anchor="middle">10<tspan dy="-32" font-size="32">5</tspan></text>
<text x="1635.1" y="1918" font-size="54" text-anchor="middle">10<tspan dy="-32" font-size="32">6</tspan></text>
<text x="1802.2" y="1918" font-size="54" text-anchor="middle">10<tspan dy="-32" font-size="32">7</tspan></text>
<text class="bd" x="996" y="1993" font-size="55.5" text-anchor="middle">Frequency (Hz)</text>
<text class="bd" transform="translate(127,349) rotate(-90)" font-size="72">ε'</text>
<text class="bd" transform="translate(127,984) rotate(-90)" font-size="72" letter-spacing="-1.5">ε''</text>
<text class="bd" transform="translate(92,1547) rotate(-90)" font-size="57">tanδ</text>
<text class="sf" x="1697.3" y="149.5" font-size="101.5">(a)</text>
<text class="sf" x="1699.7" y="772.6" font-size="101.5">(b)</text>
<text class="sf" x="1710.6" y="1356" font-size="101.5">(c)</text>
<use href="#mk" x="1349" y="1334.5" fill="#000000"/>
<text x="1431" y="1353" font-size="56">0%</text>
<use href="#mr" x="1349" y="1405" fill="#ff0000"/>
<text x="1431" y="1424.5" font-size="56">2%</text>
<use href="#mb" x="1349" y="1477" fill="#0000ff"/>
<text x="1431" y="1495.5" font-size="56">4%</text>
<use href="#mm" x="1349" y="1546.5" fill="#ff00ff"/>
<text x="1431" y="1567" font-size="56">6%</text>
<use href="#mg" x="1349" y="1618" fill="#008000"/>
<text x="1431" y="1636.5" font-size="56">8%</text>
<use href="#mn" x="1350.5" y="1688.5" fill="#000080"/>
<text x="1431" y="1707" font-size="56">10%</text>
</svg></body></html>
